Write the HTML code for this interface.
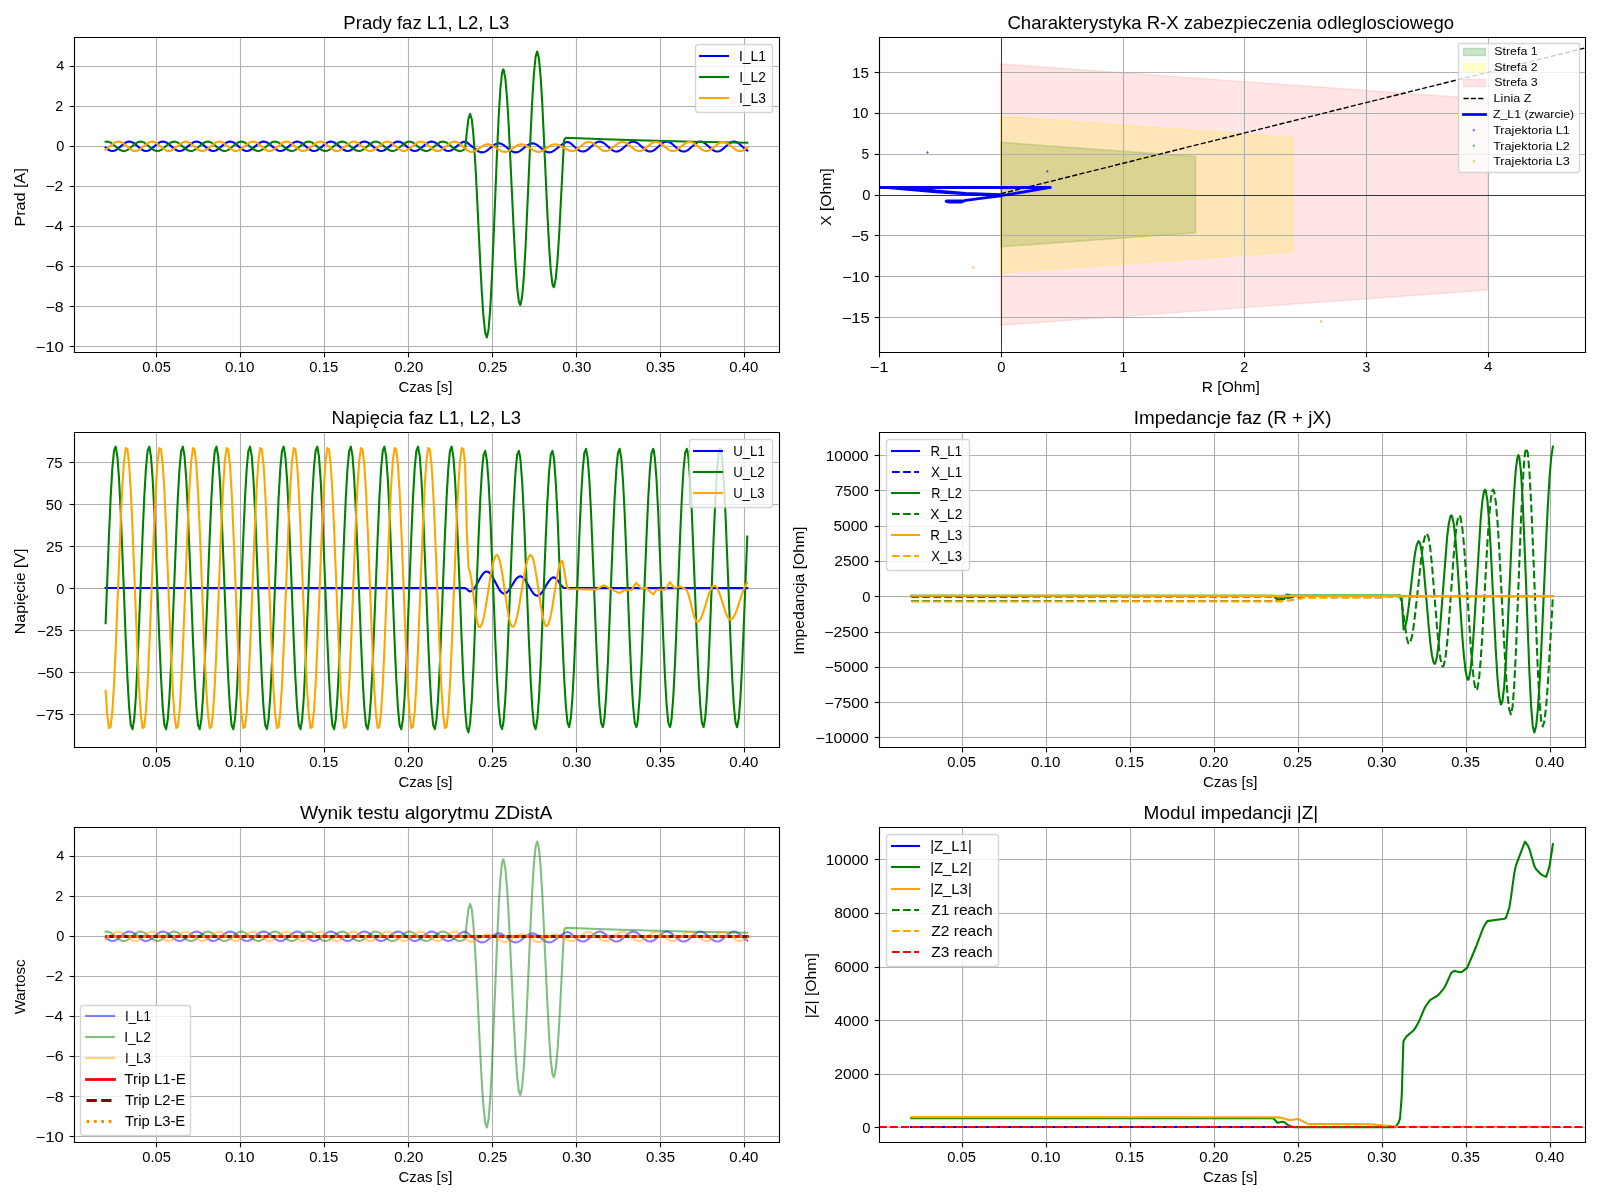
<!DOCTYPE html>
<html><head><meta charset="utf-8"><title>ZDistA</title>
<style>html,body{margin:0;padding:0;background:#fff;overflow:hidden}svg{display:block;will-change:transform}
text{font-family:"Liberation Sans",sans-serif}</style></head>
<body>
<svg width="1600" height="1200" viewBox="0 0 1152 864" version="1.1">
  <defs>
  <style type="text/css">*{stroke-linejoin: round; stroke-linecap: butt}</style>
 </defs>
 <g id="figure_1">
  <g id="patch_1">
   <path d="M 0 864 L 1152 864 L 1152 0 L 0 0 z
" style="fill: #ffffff"/>
  </g>
  <g id="axes_1">
   <g id="patch_2">
    <path d="M 52.94 253.24 L 561.15 253.24 L 561.15 26.88 L 52.94 26.88 z
" style="fill: #ffffff"/>
   </g>
   <g id="matplotlib.axis_1">
    <g id="xtick_1">
     <g id="line2d_1">
      <path d="M 112.68 253.80 L 112.68 27.00" clip-path="url(#pb59c1d358b)" style="fill: none; stroke: #b0b0b0; stroke-width: 0.8; stroke-linecap: square"/>
     </g>
     <g id="line2d_2">
      <defs>
       <path id="m1504cfccaf" d="M 0 0 L 0 3.5 " style="stroke: #000000; stroke-width: 0.8"/>
      </defs>
      <g>
       <use href="#m1504cfccaf" x="112.68" y="253.80" style="stroke: #000000; stroke-width: 0.8"/>
      </g>
     </g>
     <g id="text_1">
      <text style="font-size: 10.92px; font-family: 'Liberation Sans', sans-serif; text-anchor: middle" x="112.69" y="268.16" transform="rotate(-0 112.32 268.16)" textLength="20.58" lengthAdjust="spacingAndGlyphs">0.05</text>
     </g>
    </g>
    <g id="xtick_2">
     <g id="line2d_3">
      <path d="M 173.16 253.80 L 173.16 27.00" clip-path="url(#pb59c1d358b)" style="fill: none; stroke: #b0b0b0; stroke-width: 0.8; stroke-linecap: square"/>
     </g>
     <g id="line2d_4">
      <g>
       <use href="#m1504cfccaf" x="173.16" y="253.80" style="stroke: #000000; stroke-width: 0.8"/>
      </g>
     </g>
     <g id="text_2">
      <text style="font-size: 10.29px; font-family: 'Liberation Sans', sans-serif; text-anchor: middle" x="172.60" y="268.16" transform="rotate(-0 172.79 268.16)" textLength="21.35" lengthAdjust="spacingAndGlyphs">0.10</text>
     </g>
    </g>
    <g id="xtick_3">
     <g id="line2d_5">
      <path d="M 233.64 253.80 L 233.64 27.00" clip-path="url(#pb59c1d358b)" style="fill: none; stroke: #b0b0b0; stroke-width: 0.8; stroke-linecap: square"/>
     </g>
     <g id="line2d_6">
      <g>
       <use href="#m1504cfccaf" x="233.64" y="253.80" style="stroke: #000000; stroke-width: 0.8"/>
      </g>
     </g>
     <g id="text_3">
      <text style="font-size: 10.81px; font-family: 'Liberation Sans', sans-serif; text-anchor: middle" x="233.10" y="268.16" transform="rotate(-0 233.26 268.16)" textLength="20.79" lengthAdjust="spacingAndGlyphs">0.15</text>
     </g>
    </g>
    <g id="xtick_4">
     <g id="line2d_7">
      <path d="M 294.12 253.80 L 294.12 27.00" clip-path="url(#pb59c1d358b)" style="fill: none; stroke: #b0b0b0; stroke-width: 0.8; stroke-linecap: square"/>
     </g>
     <g id="line2d_8">
      <g>
       <use href="#m1504cfccaf" x="294.12" y="253.80" style="stroke: #000000; stroke-width: 0.8"/>
      </g>
     </g>
     <g id="text_4">
      <text style="font-size: 10.18px; font-family: 'Liberation Sans', sans-serif; text-anchor: middle" x="294.26" y="268.16" transform="rotate(-0 293.74 268.16)" textLength="20.93" lengthAdjust="spacingAndGlyphs">0.20</text>
     </g>
    </g>
    <g id="xtick_5">
     <g id="line2d_9">
      <path d="M 354.60 253.80 L 354.60 27.00" clip-path="url(#pb59c1d358b)" style="fill: none; stroke: #b0b0b0; stroke-width: 0.8; stroke-linecap: square"/>
     </g>
     <g id="line2d_10">
      <g>
       <use href="#m1504cfccaf" x="354.60" y="253.80" style="stroke: #000000; stroke-width: 0.8"/>
      </g>
     </g>
     <g id="text_5">
      <text style="font-size: 10.18px; font-family: 'Liberation Sans', sans-serif; text-anchor: middle" x="354.76" y="268.16" transform="rotate(-0 354.21 268.16)" textLength="20.79" lengthAdjust="spacingAndGlyphs">0.25</text>
     </g>
    </g>
    <g id="xtick_6">
     <g id="line2d_11">
      <path d="M 415.08 253.80 L 415.08 27.00" clip-path="url(#pb59c1d358b)" style="fill: none; stroke: #b0b0b0; stroke-width: 0.8; stroke-linecap: square"/>
     </g>
     <g id="line2d_12">
      <g>
       <use href="#m1504cfccaf" x="415.08" y="253.80" style="stroke: #000000; stroke-width: 0.8"/>
      </g>
     </g>
     <g id="text_6">
      <text style="font-size: 10.27px; font-family: 'Liberation Sans', sans-serif; text-anchor: middle" x="415.21" y="268.16" transform="rotate(-0 414.68 268.16)" textLength="20.93" lengthAdjust="spacingAndGlyphs">0.30</text>
     </g>
    </g>
    <g id="xtick_7">
     <g id="line2d_13">
      <path d="M 475.56 253.80 L 475.56 27.00" clip-path="url(#pb59c1d358b)" style="fill: none; stroke: #b0b0b0; stroke-width: 0.8; stroke-linecap: square"/>
     </g>
     <g id="line2d_14">
      <g>
       <use href="#m1504cfccaf" x="475.56" y="253.80" style="stroke: #000000; stroke-width: 0.8"/>
      </g>
     </g>
     <g id="text_7">
      <text style="font-size: 10.29px; font-family: 'Liberation Sans', sans-serif; text-anchor: middle" x="475.53" y="268.16" transform="rotate(-0 475.15 268.16)" textLength="21.00" lengthAdjust="spacingAndGlyphs">0.35</text>
     </g>
    </g>
    <g id="xtick_8">
     <g id="line2d_15">
      <path d="M 536.04 253.80 L 536.04 27.00" clip-path="url(#pb59c1d358b)" style="fill: none; stroke: #b0b0b0; stroke-width: 0.8; stroke-linecap: square"/>
     </g>
     <g id="line2d_16">
      <g>
       <use href="#m1504cfccaf" x="536.04" y="253.80" style="stroke: #000000; stroke-width: 0.8"/>
      </g>
     </g>
     <g id="text_8">
      <text style="font-size: 10.71px; font-family: 'Liberation Sans', sans-serif; text-anchor: middle" x="535.61" y="268.16" transform="rotate(-0 535.63 268.16)" textLength="20.93" lengthAdjust="spacingAndGlyphs">0.40</text>
     </g>
    </g>
    <g id="text_9">
     <text style="font-size: 9.97px; font-family: 'Liberation Sans', sans-serif; text-anchor: middle" x="306.26" y="282.24" transform="rotate(-0 307.04 282.24)" textLength="38.86" lengthAdjust="spacingAndGlyphs">Czas [s]</text>
    </g>
   </g>
   <g id="matplotlib.axis_2">
    <g id="ytick_1">
     <g id="line2d_17">
      <path d="M 53.64 249.48 L 561.24 249.48" clip-path="url(#pb59c1d358b)" style="fill: none; stroke: #b0b0b0; stroke-width: 0.8; stroke-linecap: square"/>
     </g>
     <g id="line2d_18">
      <defs>
       <path id="m5d545ce8f8" d="M 0 0 L -3.5 0 " style="stroke: #000000; stroke-width: 0.8"/>
      </defs>
      <g>
       <use href="#m5d545ce8f8" x="53.64" y="249.48" style="stroke: #000000; stroke-width: 0.8"/>
      </g>
     </g>
     <g id="text_10">
      <text style="font-size: 10.07px; font-family: 'Liberation Sans', sans-serif; text-anchor: end" x="46.02" y="253.11" transform="rotate(-0 45.94 253.10)" textLength="20.44" lengthAdjust="spacingAndGlyphs">−10</text>
     </g>
    </g>
    <g id="ytick_2">
     <g id="line2d_19">
      <path d="M 53.64 220.68 L 561.24 220.68" clip-path="url(#pb59c1d358b)" style="fill: none; stroke: #b0b0b0; stroke-width: 0.8; stroke-linecap: square"/>
     </g>
     <g id="line2d_20">
      <g>
       <use href="#m5d545ce8f8" x="53.64" y="220.68" style="stroke: #000000; stroke-width: 0.8"/>
      </g>
     </g>
     <g id="text_11">
      <text style="font-size: 10.08px; font-family: 'Liberation Sans', sans-serif; text-anchor: end" x="45.86" y="224.29" transform="rotate(-0 45.94 224.28)" textLength="13.06" lengthAdjust="spacingAndGlyphs">−8</text>
     </g>
    </g>
    <g id="ytick_3">
     <g id="line2d_21">
      <path d="M 53.64 191.88 L 561.24 191.88" clip-path="url(#pb59c1d358b)" style="fill: none; stroke: #b0b0b0; stroke-width: 0.8; stroke-linecap: square"/>
     </g>
     <g id="line2d_22">
      <g>
       <use href="#m5d545ce8f8" x="53.64" y="191.88" style="stroke: #000000; stroke-width: 0.8"/>
      </g>
     </g>
     <g id="text_12">
      <text style="font-size: 9.97px; font-family: 'Liberation Sans', sans-serif; text-anchor: end" x="45.86" y="195.47" transform="rotate(-0 45.94 195.46)" textLength="13.11" lengthAdjust="spacingAndGlyphs">−6</text>
     </g>
    </g>
    <g id="ytick_4">
     <g id="line2d_23">
      <path d="M 53.64 163.08 L 561.24 163.08" clip-path="url(#pb59c1d358b)" style="fill: none; stroke: #b0b0b0; stroke-width: 0.8; stroke-linecap: square"/>
     </g>
     <g id="line2d_24">
      <g>
       <use href="#m5d545ce8f8" x="53.64" y="163.08" style="stroke: #000000; stroke-width: 0.8"/>
      </g>
     </g>
     <g id="text_13">
      <text style="font-size: 10.08px; font-family: 'Liberation Sans', sans-serif; text-anchor: end" x="45.57" y="166.64" transform="rotate(-0 45.94 166.64)" textLength="13.31" lengthAdjust="spacingAndGlyphs">−4</text>
     </g>
    </g>
    <g id="ytick_5">
     <g id="line2d_25">
      <path d="M 53.64 134.28 L 561.24 134.28" clip-path="url(#pb59c1d358b)" style="fill: none; stroke: #b0b0b0; stroke-width: 0.8; stroke-linecap: square"/>
     </g>
     <g id="line2d_26">
      <g>
       <use href="#m5d545ce8f8" x="53.64" y="134.28" style="stroke: #000000; stroke-width: 0.8"/>
      </g>
     </g>
     <g id="text_14">
      <text style="font-size: 9.97px; font-family: 'Liberation Sans', sans-serif; text-anchor: end" x="45.60" y="137.82" transform="rotate(-0 45.94 137.82)" textLength="12.83" lengthAdjust="spacingAndGlyphs">−2</text>
     </g>
    </g>
    <g id="ytick_6">
     <g id="line2d_27">
      <path d="M 53.64 105.48 L 561.24 105.48" clip-path="url(#pb59c1d358b)" style="fill: none; stroke: #b0b0b0; stroke-width: 0.8; stroke-linecap: square"/>
     </g>
     <g id="line2d_28">
      <g>
       <use href="#m5d545ce8f8" x="53.64" y="105.48" style="stroke: #000000; stroke-width: 0.8"/>
      </g>
     </g>
     <g id="text_15">
      <text style="font-size: 10.92px; font-family: 'Liberation Sans', sans-serif; text-anchor: end" x="46.32" y="109.00" transform="rotate(-0 45.94 109.00)" textLength="5.85" lengthAdjust="spacingAndGlyphs">0</text>
     </g>
    </g>
    <g id="ytick_7">
     <g id="line2d_29">
      <path d="M 53.64 76.68 L 561.24 76.68" clip-path="url(#pb59c1d358b)" style="fill: none; stroke: #b0b0b0; stroke-width: 0.8; stroke-linecap: square"/>
     </g>
     <g id="line2d_30">
      <g>
       <use href="#m5d545ce8f8" x="53.64" y="76.68" style="stroke: #000000; stroke-width: 0.8"/>
      </g>
     </g>
     <g id="text_16">
      <text style="font-size: 9.98px; font-family: 'Liberation Sans', sans-serif; text-anchor: end" x="45.57" y="80.18" transform="rotate(-0 45.94 80.18)" textLength="5.74" lengthAdjust="spacingAndGlyphs">2</text>
     </g>
    </g>
    <g id="ytick_8">
     <g id="line2d_31">
      <path d="M 53.64 47.88 L 561.24 47.88" clip-path="url(#pb59c1d358b)" style="fill: none; stroke: #b0b0b0; stroke-width: 0.8; stroke-linecap: square"/>
     </g>
     <g id="line2d_32">
      <g>
       <use href="#m5d545ce8f8" x="53.64" y="47.88" style="stroke: #000000; stroke-width: 0.8"/>
      </g>
     </g>
     <g id="text_17">
      <text style="font-size: 9.87px; font-family: 'Liberation Sans', sans-serif; text-anchor: end" x="46.27" y="50.64" transform="rotate(-0 45.94 51.36)" textLength="5.84" lengthAdjust="spacingAndGlyphs">4</text>
     </g>
    </g>
    <g id="text_18">
     <text style="font-size: 10.49px; font-family: 'Liberation Sans', sans-serif; text-anchor: middle" x="16.70" y="139.34" transform="rotate(-90 18.72 140.06)" textLength="42.12" lengthAdjust="spacingAndGlyphs">Prad [A]</text>
    </g>
   </g>
   <g id="line2d_33">
    <path d="M 76.04 106.27 L 77.24 107.23 L 78.45 108.00 L 79.66 108.51 L 80.87 108.71 L 82.08 108.58 L 83.29 108.13 L 84.50 107.40 L 86.92 105.43 L 89.34 103.42 L 90.55 102.65 L 91.76 102.14 L 92.97 101.94 L 94.18 102.07 L 95.39 102.52 L 96.60 103.25 L 99.01 105.22 L 101.43 107.23 L 102.64 108.00 L 103.85 108.51 L 105.06 108.71 L 106.27 108.58 L 107.48 108.13 L 108.69 107.40 L 111.11 105.43 L 113.53 103.42 L 114.74 102.65 L 115.95 102.14 L 117.16 101.94 L 118.37 102.07 L 119.58 102.52 L 120.79 103.25 L 123.20 105.22 L 125.62 107.23 L 126.83 108.00 L 128.04 108.51 L 129.25 108.71 L 130.46 108.58 L 131.67 108.13 L 132.88 107.40 L 135.30 105.43 L 137.72 103.42 L 138.93 102.65 L 140.14 102.14 L 141.35 101.94 L 142.56 102.07 L 143.76 102.52 L 144.97 103.25 L 147.39 105.22 L 149.81 107.23 L 151.02 108.00 L 152.23 108.51 L 153.44 108.71 L 154.65 108.58 L 155.86 108.13 L 157.07 107.40 L 159.49 105.43 L 161.91 103.42 L 163.12 102.65 L 164.33 102.14 L 165.53 101.94 L 166.74 102.07 L 167.95 102.52 L 169.16 103.25 L 171.58 105.22 L 174.00 107.23 L 175.21 108.00 L 176.42 108.51 L 177.63 108.71 L 178.84 108.58 L 180.05 108.13 L 181.26 107.40 L 183.68 105.43 L 186.10 103.42 L 187.30 102.65 L 188.51 102.14 L 189.72 101.94 L 190.93 102.07 L 192.14 102.52 L 193.35 103.25 L 195.77 105.22 L 198.19 107.23 L 199.40 108.00 L 200.61 108.51 L 201.82 108.71 L 203.03 108.58 L 204.24 108.13 L 205.45 107.40 L 207.87 105.43 L 210.28 103.42 L 211.49 102.65 L 212.70 102.14 L 213.91 101.94 L 215.12 102.07 L 216.33 102.52 L 217.54 103.25 L 219.96 105.22 L 222.38 107.23 L 223.59 108.00 L 224.80 108.51 L 226.01 108.71 L 227.22 108.58 L 228.43 108.13 L 229.64 107.40 L 232.05 105.43 L 234.47 103.42 L 235.68 102.65 L 236.89 102.14 L 238.10 101.94 L 239.31 102.07 L 240.52 102.52 L 241.73 103.25 L 244.15 105.22 L 246.57 107.23 L 247.78 108.00 L 248.99 108.51 L 250.20 108.71 L 251.41 108.58 L 252.61 108.13 L 253.82 107.40 L 256.24 105.43 L 258.66 103.42 L 259.87 102.65 L 261.08 102.14 L 262.29 101.94 L 263.50 102.07 L 264.71 102.52 L 265.92 103.25 L 268.34 105.22 L 270.76 107.23 L 271.97 108.00 L 273.18 108.51 L 274.38 108.71 L 275.59 108.58 L 276.80 108.13 L 278.01 107.40 L 280.43 105.43 L 282.85 103.42 L 284.06 102.65 L 285.27 102.14 L 286.48 101.94 L 287.69 102.07 L 288.90 102.52 L 290.11 103.25 L 292.53 105.22 L 294.95 107.23 L 296.15 108.00 L 297.36 108.51 L 298.57 108.71 L 299.78 108.58 L 300.99 108.13 L 302.20 107.40 L 304.62 105.43 L 307.04 103.42 L 308.25 102.65 L 309.46 102.14 L 310.67 101.94 L 311.88 102.07 L 313.09 102.52 L 314.30 103.25 L 316.72 105.22 L 319.13 107.23 L 320.34 108.00 L 321.55 108.51 L 322.76 108.71 L 323.97 108.58 L 325.18 108.13 L 326.39 107.40 L 328.81 105.43 L 331.23 103.42 L 332.44 102.65 L 333.65 102.14 L 334.86 102.00 L 336.07 102.48 L 338.49 104.44 L 344.53 109.04 L 345.74 109.53 L 346.95 109.72 L 348.16 109.59 L 349.37 109.16 L 350.58 108.47 L 353.00 106.58 L 355.42 104.66 L 356.63 103.92 L 357.84 103.43 L 359.05 103.24 L 360.26 103.36 L 361.47 103.80 L 362.67 104.49 L 365.09 106.38 L 367.51 108.30 L 368.72 109.04 L 369.93 109.53 L 371.14 109.72 L 372.35 109.59 L 373.56 109.16 L 374.77 108.47 L 377.19 106.58 L 379.61 104.66 L 380.82 103.92 L 382.03 103.43 L 383.24 103.24 L 384.44 103.36 L 385.65 103.80 L 386.86 104.49 L 389.28 106.38 L 391.70 108.30 L 392.91 109.04 L 394.12 109.53 L 395.33 109.72 L 396.54 109.59 L 397.75 109.16 L 398.96 108.47 L 401.38 106.58 L 403.80 104.66 L 406.21 103.10 L 407.42 102.48 L 408.63 102.24 L 409.84 102.56 L 411.05 103.33 L 413.47 105.43 L 415.89 107.57 L 417.10 108.39 L 418.31 108.93 L 419.52 109.14 L 420.73 109.00 L 421.94 108.52 L 423.15 107.75 L 425.57 105.66 L 427.98 103.52 L 429.19 102.70 L 430.52 102.12 L 431.61 101.94 L 432.82 102.08 L 434.39 102.77 L 435.24 103.33 L 437.66 105.43 L 440.08 107.57 L 441.41 108.46 L 442.50 108.93 L 443.71 109.14 L 444.92 109.00 L 446.13 108.52 L 447.34 107.75 L 449.75 105.66 L 452.17 103.52 L 453.38 102.70 L 454.59 102.15 L 455.80 101.94 L 457.01 102.08 L 458.83 102.92 L 459.43 103.33 L 461.85 105.43 L 464.27 107.57 L 465.48 108.39 L 466.69 108.93 L 467.90 109.14 L 469.11 109.00 L 470.68 108.32 L 471.52 107.75 L 473.94 105.66 L 476.36 103.52 L 477.57 102.70 L 478.78 102.15 L 479.99 101.94 L 481.20 102.08 L 483.01 102.92 L 483.62 103.33 L 486.04 105.43 L 488.46 107.57 L 489.67 108.39 L 490.88 108.93 L 492.09 109.14 L 493.29 109.00 L 494.99 108.24 L 495.71 107.75 L 498.13 105.66 L 500.79 103.33 L 501.76 102.70 L 502.97 102.15 L 504.18 101.94 L 505.39 102.08 L 506.60 102.56 L 507.81 103.33 L 510.23 105.43 L 512.65 107.57 L 513.86 108.39 L 515.07 108.93 L 516.27 109.14 L 517.97 108.85 L 518.94 108.39 L 519.90 107.75 L 522.32 105.66 L 524.74 103.52 L 525.95 102.70 L 527.16 102.15 L 528.37 101.94 L 529.58 102.08 L 530.79 102.56 L 532.00 103.33 L 534.42 105.43 L 536.84 107.57 L 538.04 108.39 L 538.04 108.39 " clip-path="url(#pb59c1d358b)" style="fill: none; stroke: #0000ff; stroke-width: 1.5; stroke-linecap: square"/>
   </g>
   <g id="line2d_34">
    <path d="M 76.04 102.05 L 77.24 101.95 L 78.45 102.18 L 79.66 102.72 L 80.87 103.51 L 83.29 105.54 L 85.71 107.48 L 86.92 108.19 L 88.13 108.61 L 89.34 108.71 L 90.55 108.47 L 91.76 107.94 L 92.97 107.14 L 95.39 105.11 L 97.81 103.17 L 99.01 102.47 L 100.22 102.05 L 101.43 101.95 L 102.64 102.18 L 103.85 102.72 L 105.06 103.51 L 107.48 105.54 L 109.90 107.48 L 111.11 108.19 L 112.32 108.61 L 113.53 108.71 L 114.74 108.47 L 115.95 107.94 L 117.16 107.14 L 119.58 105.11 L 121.99 103.17 L 123.20 102.47 L 124.41 102.05 L 125.62 101.95 L 126.83 102.18 L 128.04 102.72 L 129.25 103.51 L 131.67 105.54 L 134.09 107.48 L 135.30 108.19 L 136.51 108.61 L 137.72 108.71 L 138.93 108.47 L 140.14 107.94 L 141.35 107.14 L 143.76 105.11 L 146.18 103.17 L 147.39 102.47 L 148.60 102.05 L 149.81 101.95 L 151.02 102.18 L 152.23 102.72 L 153.44 103.51 L 155.86 105.54 L 158.28 107.48 L 159.49 108.19 L 160.70 108.61 L 161.91 108.71 L 163.12 108.47 L 164.33 107.94 L 165.53 107.14 L 167.95 105.11 L 170.37 103.17 L 171.58 102.47 L 172.79 102.05 L 174.00 101.95 L 175.21 102.18 L 176.42 102.72 L 177.63 103.51 L 180.05 105.54 L 182.47 107.48 L 183.68 108.19 L 184.89 108.61 L 186.10 108.71 L 187.30 108.47 L 188.51 107.94 L 189.72 107.14 L 192.14 105.11 L 194.56 103.17 L 195.77 102.47 L 196.98 102.05 L 198.19 101.95 L 199.40 102.18 L 200.61 102.72 L 201.82 103.51 L 204.24 105.54 L 206.66 107.48 L 207.87 108.19 L 209.07 108.61 L 210.28 108.71 L 211.49 108.47 L 212.70 107.94 L 213.91 107.14 L 216.33 105.11 L 218.75 103.17 L 219.96 102.47 L 221.17 102.05 L 222.38 101.95 L 223.59 102.18 L 224.80 102.72 L 226.01 103.51 L 228.43 105.54 L 230.84 107.48 L 232.05 108.19 L 233.26 108.61 L 234.47 108.71 L 235.68 108.47 L 236.89 107.94 L 238.10 107.14 L 240.52 105.11 L 242.94 103.17 L 244.15 102.47 L 245.36 102.05 L 246.57 101.95 L 247.78 102.18 L 248.99 102.72 L 250.20 103.51 L 252.61 105.54 L 255.03 107.48 L 256.24 108.19 L 257.45 108.61 L 258.66 108.71 L 259.87 108.47 L 261.08 107.94 L 262.29 107.14 L 264.71 105.11 L 267.13 103.17 L 268.34 102.47 L 269.55 102.05 L 270.76 101.95 L 271.97 102.18 L 273.18 102.72 L 274.38 103.51 L 276.80 105.54 L 279.22 107.48 L 280.43 108.19 L 281.64 108.61 L 282.85 108.71 L 284.06 108.47 L 285.27 107.94 L 286.48 107.14 L 288.90 105.11 L 291.32 103.17 L 292.53 102.47 L 293.74 102.05 L 294.95 101.95 L 296.15 102.18 L 297.36 102.72 L 298.57 103.51 L 300.99 105.54 L 303.41 107.48 L 304.62 108.19 L 305.83 108.61 L 307.04 108.71 L 308.25 108.47 L 309.46 107.94 L 310.67 107.14 L 313.09 105.11 L 315.51 103.17 L 316.72 102.47 L 317.93 102.05 L 319.13 101.95 L 320.34 102.18 L 321.55 102.72 L 322.76 103.51 L 325.18 105.54 L 327.60 107.48 L 328.81 108.19 L 330.02 108.61 L 331.23 108.71 L 332.44 108.47 L 333.65 107.94 L 334.86 107.14 L 336.07 95.52 L 337.28 85.45 L 338.49 81.98 L 339.70 86.00 L 340.90 97.65 L 342.11 115.78 L 343.32 138.57 L 345.74 188.79 L 346.95 211.20 L 348.16 228.75 L 349.37 239.69 L 350.46 242.95 L 350.58 242.90 L 351.79 237.01 L 353.00 221.90 L 354.21 199.10 L 356.63 140.29 L 357.84 110.26 L 359.05 83.93 L 360.26 63.97 L 361.47 52.41 L 362.31 49.99 L 362.67 50.36 L 363.88 56.83 L 365.09 70.78 L 366.30 90.88 L 368.72 141.38 L 369.93 166.94 L 371.14 189.42 L 372.35 206.65 L 373.56 216.99 L 374.53 219.60 L 374.77 219.42 L 375.98 213.32 L 377.19 199.06 L 378.40 178.02 L 380.82 124.13 L 382.03 96.44 L 383.24 71.83 L 384.44 52.64 L 385.65 40.72 L 386.74 37.16 L 386.86 37.21 L 388.07 42.38 L 389.28 55.67 L 390.49 75.71 L 392.91 127.40 L 394.12 153.79 L 395.33 176.94 L 396.54 194.49 L 397.75 204.65 L 398.60 206.78 L 398.96 206.43 L 400.17 200.42 L 401.38 187.46 L 402.59 168.82 L 405.01 122.19 L 406.09 101.00 L 407.42 99.13 L 435.24 100.21 L 465.48 101.16 L 499.34 102.00 L 538.04 102.75 L 538.04 102.75 " clip-path="url(#pb59c1d358b)" style="fill: none; stroke: #008000; stroke-width: 1.5; stroke-linecap: square"/>
   </g>
   <g id="line2d_35">
    <path d="M 76.04 107.79 L 77.24 106.96 L 82.08 103.01 L 83.29 102.36 L 84.50 102.00 L 85.71 101.97 L 86.92 102.26 L 88.13 102.86 L 89.34 103.69 L 94.18 107.64 L 95.39 108.29 L 96.60 108.65 L 97.81 108.69 L 99.01 108.39 L 100.22 107.79 L 101.43 106.96 L 106.27 103.01 L 107.48 102.36 L 108.69 102.00 L 109.90 101.97 L 111.11 102.26 L 112.32 102.86 L 113.53 103.69 L 118.37 107.64 L 119.58 108.29 L 120.79 108.65 L 121.99 108.69 L 123.20 108.39 L 124.41 107.79 L 125.62 106.96 L 130.46 103.01 L 131.67 102.36 L 132.88 102.00 L 134.09 101.97 L 135.30 102.26 L 136.51 102.86 L 137.72 103.69 L 142.56 107.64 L 143.76 108.29 L 144.97 108.65 L 146.18 108.69 L 147.39 108.39 L 148.60 107.79 L 149.81 106.96 L 154.65 103.01 L 155.86 102.36 L 157.07 102.00 L 158.28 101.97 L 159.49 102.26 L 160.70 102.86 L 161.91 103.69 L 166.74 107.64 L 167.95 108.29 L 169.16 108.65 L 170.37 108.69 L 171.58 108.39 L 172.79 107.79 L 174.00 106.96 L 178.84 103.01 L 180.05 102.36 L 181.26 102.00 L 182.47 101.97 L 183.68 102.26 L 184.89 102.86 L 186.10 103.69 L 190.93 107.64 L 192.14 108.29 L 193.35 108.65 L 194.56 108.69 L 195.77 108.39 L 196.98 107.79 L 198.19 106.96 L 203.03 103.01 L 204.24 102.36 L 205.45 102.00 L 206.66 101.97 L 207.87 102.26 L 209.07 102.86 L 210.28 103.69 L 215.12 107.64 L 216.33 108.29 L 217.54 108.65 L 218.75 108.69 L 219.96 108.39 L 221.17 107.79 L 222.38 106.96 L 227.22 103.01 L 228.43 102.36 L 229.64 102.00 L 230.84 101.97 L 232.05 102.26 L 233.26 102.86 L 234.47 103.69 L 239.31 107.64 L 240.52 108.29 L 241.73 108.65 L 242.94 108.69 L 244.15 108.39 L 245.36 107.79 L 246.57 106.96 L 251.41 103.01 L 252.61 102.36 L 253.82 102.00 L 255.03 101.97 L 256.24 102.26 L 257.45 102.86 L 258.66 103.69 L 263.50 107.64 L 264.71 108.29 L 265.92 108.65 L 267.13 108.69 L 268.34 108.39 L 269.55 107.79 L 270.76 106.96 L 275.59 103.01 L 276.80 102.36 L 278.01 102.00 L 279.22 101.97 L 280.43 102.26 L 281.64 102.86 L 282.85 103.69 L 287.69 107.64 L 288.90 108.29 L 290.11 108.65 L 291.32 108.69 L 292.53 108.39 L 293.74 107.79 L 294.95 106.96 L 299.78 103.01 L 300.99 102.36 L 302.20 102.00 L 303.41 101.97 L 304.62 102.26 L 305.83 102.86 L 307.04 103.69 L 311.88 107.64 L 313.09 108.29 L 314.30 108.65 L 315.51 108.69 L 316.72 108.39 L 317.93 107.79 L 319.13 106.96 L 323.97 103.01 L 325.18 102.36 L 326.39 102.00 L 327.60 101.97 L 328.81 102.26 L 330.02 102.86 L 331.23 103.69 L 334.86 106.81 L 336.07 107.91 L 337.28 108.79 L 338.49 109.28 L 339.70 109.34 L 340.90 109.10 L 342.11 108.62 L 343.32 107.94 L 348.16 104.75 L 349.37 104.22 L 350.58 103.93 L 351.79 103.91 L 353.00 104.15 L 354.21 104.63 L 355.42 105.30 L 360.26 108.50 L 361.47 109.02 L 362.67 109.31 L 363.88 109.34 L 365.09 109.10 L 366.30 108.62 L 367.51 107.94 L 372.35 104.75 L 373.56 104.22 L 374.77 103.93 L 375.98 103.91 L 377.19 104.15 L 378.40 104.63 L 379.61 105.30 L 384.44 108.50 L 385.65 109.02 L 386.86 109.31 L 388.07 109.34 L 389.28 109.10 L 390.49 108.62 L 391.70 107.94 L 396.54 104.75 L 397.75 104.22 L 398.96 103.93 L 400.17 103.91 L 401.38 104.15 L 402.59 104.63 L 407.42 107.26 L 409.84 108.37 L 411.05 108.73 L 412.26 108.76 L 413.47 108.47 L 414.68 107.89 L 415.89 107.07 L 420.73 103.20 L 421.94 102.57 L 423.15 102.21 L 424.36 102.18 L 425.57 102.47 L 426.78 103.05 L 427.98 103.87 L 432.82 107.74 L 434.39 108.51 L 435.24 108.73 L 436.45 108.76 L 437.66 108.47 L 438.87 107.89 L 440.08 107.07 L 444.92 103.20 L 446.13 102.57 L 447.34 102.21 L 448.55 102.18 L 449.75 102.47 L 450.96 103.05 L 452.90 104.45 L 457.01 107.74 L 458.83 108.59 L 459.43 108.73 L 460.64 108.76 L 461.85 108.47 L 463.06 107.89 L 464.87 106.59 L 469.11 103.20 L 470.68 102.43 L 471.52 102.21 L 472.73 102.18 L 473.94 102.47 L 475.15 103.05 L 476.97 104.35 L 481.20 107.74 L 483.01 108.59 L 483.62 108.73 L 484.83 108.76 L 486.04 108.47 L 487.25 107.89 L 489.18 106.49 L 493.29 103.20 L 494.99 102.39 L 495.71 102.21 L 496.92 102.18 L 498.13 102.47 L 499.34 103.05 L 500.79 104.06 L 505.39 107.74 L 506.60 108.37 L 507.81 108.73 L 509.02 108.76 L 510.23 108.47 L 511.44 107.89 L 513.25 106.59 L 517.48 103.20 L 518.94 102.47 L 519.90 102.21 L 521.11 102.18 L 522.32 102.47 L 523.53 103.05 L 524.74 103.87 L 529.58 107.74 L 530.79 108.37 L 532.00 108.73 L 533.21 108.76 L 534.42 108.47 L 535.63 107.89 L 536.84 107.07 L 538.04 106.09 L 538.04 106.09 " clip-path="url(#pb59c1d358b)" style="fill: none; stroke: #ffa500; stroke-width: 1.5; stroke-linecap: square"/>
   </g>
   <g id="patch_3">
    <path d="M 53.64 253.80 L 53.64 27.00" style="fill: none; stroke: #000000; stroke-width: 0.8; stroke-linejoin: miter; stroke-linecap: square"/>
   </g>
   <g id="patch_4">
    <path d="M 561.24 253.80 L 561.24 27.00" style="fill: none; stroke: #000000; stroke-width: 0.8; stroke-linejoin: miter; stroke-linecap: square"/>
   </g>
   <g id="patch_5">
    <path d="M 53.64 253.80 L 561.24 253.80" style="fill: none; stroke: #000000; stroke-width: 0.8; stroke-linejoin: miter; stroke-linecap: square"/>
   </g>
   <g id="patch_6">
    <path d="M 53.64 27.00 L 561.24 27.00" style="fill: none; stroke: #000000; stroke-width: 0.8; stroke-linejoin: miter; stroke-linecap: square"/>
   </g>
   <g id="text_19">
    <text style="font-size: 13.23px; font-family: 'Liberation Sans', sans-serif; text-anchor: middle" x="306.96" y="20.88" transform="rotate(-0 307.04 20.88)" textLength="119.48" lengthAdjust="spacingAndGlyphs">Prady faz L1, L2, L3</text>
   </g>
   <g id="legend_1">
    <g id="patch_7">
     <path d="M 502.92 81.00 L 554.76 81.00 Q 556.20 81.00 556.20 78.84 L 556.20 34.20 Q 556.20 32.04 554.76 32.04 L 502.92 32.04 Q 500.76 32.04 500.76 34.20 L 500.76 78.84 Q 500.76 81.00 502.92 81.00 z" style="fill: #ffffff; fill-opacity: 0.8; stroke-opacity: 0.8; stroke: #cccccc; stroke-linejoin: miter"/>
    </g>
    <g id="line2d_36">
     <path d="M 504.00 40.32 L 514.08 40.32 L 524.16 40.32" style="fill: none; stroke: #0000ff; stroke-width: 1.5; stroke-linecap: square"/>
    </g>
    <g id="text_20">
     <text style="font-size: 10.18px; font-family: 'Liberation Sans', sans-serif; text-anchor: start" x="532.08" y="43.80" transform="rotate(-0 532.26 43.8)" textLength="19.49" lengthAdjust="spacingAndGlyphs">I_L1</text>
    </g>
    <g id="line2d_37">
     <path d="M 504.00 55.44 L 514.08 55.44 L 524.16 55.44" style="fill: none; stroke: #008000; stroke-width: 1.5; stroke-linecap: square"/>
    </g>
    <g id="text_21">
     <text style="font-size: 9.98px; font-family: 'Liberation Sans', sans-serif; text-anchor: start" x="532.28" y="58.98" transform="rotate(-0 532.26 58.98)" textLength="19.05" lengthAdjust="spacingAndGlyphs">I_L2</text>
    </g>
    <g id="line2d_38">
     <path d="M 504.00 70.56 L 514.08 70.56 L 524.16 70.56" style="fill: none; stroke: #ffa500; stroke-width: 1.5; stroke-linecap: square"/>
    </g>
    <g id="text_22">
     <text style="font-size: 9.98px; font-family: 'Liberation Sans', sans-serif; text-anchor: start" x="532.08" y="74.16" transform="rotate(-0 532.26 74.16)" textLength="19.36" lengthAdjust="spacingAndGlyphs">I_L3</text>
    </g>
   </g>
  </g>
  <g id="axes_2">
   <g id="patch_8">
    <path d="M 632.99 253.24 L 1141.2 253.24 L 1141.2 26.88 L 632.99 26.88 z
" style="fill: #ffffff"/>
   </g>
   <g id="patch_9">
    <path d="M 720.61 177.74 L 860.80 167.58 L 860.80 112.64 L 720.61 102.49 z
" clip-path="url(#pef2bdce41a)" style="fill: #008000; fill-opacity: 0.2; stroke-opacity: 0.2; stroke: #008000; stroke-linejoin: miter"/>
   </g>
   <g id="patch_10">
    <path d="M 720.61 196.56 L 930.90 181.32 L 930.90 98.91 L 720.61 83.67 z
" clip-path="url(#pef2bdce41a)" style="fill: #ffff00; fill-opacity: 0.2; stroke-opacity: 0.2; stroke: #ffff00; stroke-linejoin: miter"/>
   </g>
   <g id="patch_11">
    <path d="M 720.61 234.19 L 1071.10 208.79 L 1071.10 71.44 L 720.61 46.04 z
" clip-path="url(#pef2bdce41a)" style="fill: #ff0000; fill-opacity: 0.1; stroke-opacity: 0.1; stroke: #ff0000; stroke-linejoin: miter"/>
   </g>
   <g id="matplotlib.axis_3">
    <g id="xtick_9">
     <g id="line2d_39">
      <path d="M 633.24 253.80 L 633.24 27.00" clip-path="url(#pef2bdce41a)" style="fill: none; stroke: #b0b0b0; stroke-width: 0.8; stroke-linecap: square"/>
     </g>
     <g id="line2d_40">
      <g>
       <use href="#m1504cfccaf" x="633.24" y="253.80" style="stroke: #000000; stroke-width: 0.8"/>
      </g>
     </g>
     <g id="text_23">
      <text style="font-size: 10.28px; font-family: 'Liberation Sans', sans-serif; text-anchor: middle" x="632.96" y="268.16" transform="rotate(-0 632.99 268.16)" textLength="13.82" lengthAdjust="spacingAndGlyphs">−1</text>
     </g>
    </g>
    <g id="xtick_10">
     <g id="line2d_41">
      <path d="M 721.08 253.80 L 721.08 27.00" clip-path="url(#pef2bdce41a)" style="fill: none; stroke: #b0b0b0; stroke-width: 0.8; stroke-linecap: square"/>
     </g>
     <g id="line2d_42">
      <g>
       <use href="#m1504cfccaf" x="721.08" y="253.80" style="stroke: #000000; stroke-width: 0.8"/>
      </g>
     </g>
     <g id="text_24">
      <text style="font-size: 10.92px; font-family: 'Liberation Sans', sans-serif; text-anchor: middle" x="720.95" y="268.16" transform="rotate(-0 720.61 268.16)" textLength="5.91" lengthAdjust="spacingAndGlyphs">0</text>
     </g>
    </g>
    <g id="xtick_11">
     <g id="line2d_43">
      <path d="M 808.92 253.80 L 808.92 27.00" clip-path="url(#pef2bdce41a)" style="fill: none; stroke: #b0b0b0; stroke-width: 0.8; stroke-linecap: square"/>
     </g>
     <g id="line2d_44">
      <g>
       <use href="#m1504cfccaf" x="808.92" y="253.80" style="stroke: #000000; stroke-width: 0.8"/>
      </g>
     </g>
     <g id="text_25">
      <text style="font-size: 11.13px; font-family: 'Liberation Sans', sans-serif; text-anchor: middle" x="808.81" y="268.16" transform="rotate(-0 808.23 268.16)" textLength="5.67" lengthAdjust="spacingAndGlyphs">1</text>
     </g>
    </g>
    <g id="xtick_12">
     <g id="line2d_45">
      <path d="M 896.04 253.80 L 896.04 27.00" clip-path="url(#pef2bdce41a)" style="fill: none; stroke: #b0b0b0; stroke-width: 0.8; stroke-linecap: square"/>
     </g>
     <g id="line2d_46">
      <g>
       <use href="#m1504cfccaf" x="896.04" y="253.80" style="stroke: #000000; stroke-width: 0.8"/>
      </g>
     </g>
     <g id="text_26">
      <text style="font-size: 9.97px; font-family: 'Liberation Sans', sans-serif; text-anchor: middle" x="895.86" y="268.16" transform="rotate(-0 895.85 268.16)" textLength="5.74" lengthAdjust="spacingAndGlyphs">2</text>
     </g>
    </g>
    <g id="xtick_13">
     <g id="line2d_47">
      <path d="M 983.88 253.80 L 983.88 27.00" clip-path="url(#pef2bdce41a)" style="fill: none; stroke: #b0b0b0; stroke-width: 0.8; stroke-linecap: square"/>
     </g>
     <g id="line2d_48">
      <g>
       <use href="#m1504cfccaf" x="983.88" y="253.80" style="stroke: #000000; stroke-width: 0.8"/>
      </g>
     </g>
     <g id="text_27">
      <text style="font-size: 10.60px; font-family: 'Liberation Sans', sans-serif; text-anchor: middle" x="983.85" y="268.16" transform="rotate(-0 983.47 268.16)" textLength="5.62" lengthAdjust="spacingAndGlyphs">3</text>
     </g>
    </g>
    <g id="xtick_14">
     <g id="line2d_49">
      <path d="M 1071.72 253.80 L 1071.72 27.00" clip-path="url(#pef2bdce41a)" style="fill: none; stroke: #b0b0b0; stroke-width: 0.8; stroke-linecap: square"/>
     </g>
     <g id="line2d_50">
      <g>
       <use href="#m1504cfccaf" x="1071.72" y="253.80" style="stroke: #000000; stroke-width: 0.8"/>
      </g>
     </g>
     <g id="text_28">
      <text style="font-size: 9.87px; font-family: 'Liberation Sans', sans-serif; text-anchor: middle" x="1071.52" y="267.44" transform="rotate(-0 1071.10 268.16)" textLength="6.13" lengthAdjust="spacingAndGlyphs">4</text>
     </g>
    </g>
    <g id="text_29">
     <text style="font-size: 10.92px; font-family: 'Liberation Sans', sans-serif; text-anchor: middle" x="886.15" y="282.24" transform="rotate(-0 887.09 282.24)" textLength="41.75" lengthAdjust="spacingAndGlyphs">R [Ohm]</text>
    </g>
   </g>
   <g id="matplotlib.axis_4">
    <g id="ytick_9">
     <g id="line2d_51">
      <path d="M 633.24 228.60 L 1141.56 228.60" clip-path="url(#pef2bdce41a)" style="fill: none; stroke: #b0b0b0; stroke-width: 0.8; stroke-linecap: square"/>
     </g>
     <g id="line2d_52">
      <g>
       <use href="#m5d545ce8f8" x="633.24" y="228.60" style="stroke: #000000; stroke-width: 0.8"/>
      </g>
     </g>
     <g id="text_30">
      <text style="font-size: 10.08px; font-family: 'Liberation Sans', sans-serif; text-anchor: end" x="626.30" y="232.27" transform="rotate(-0 625.99 232.27)" textLength="20.29" lengthAdjust="spacingAndGlyphs">−15</text>
     </g>
    </g>
    <g id="ytick_10">
     <g id="line2d_53">
      <path d="M 633.24 199.08 L 1141.56 199.08" clip-path="url(#pef2bdce41a)" style="fill: none; stroke: #b0b0b0; stroke-width: 0.8; stroke-linecap: square"/>
     </g>
     <g id="line2d_54">
      <g>
       <use href="#m5d545ce8f8" x="633.24" y="199.08" style="stroke: #000000; stroke-width: 0.8"/>
      </g>
     </g>
     <g id="text_31">
      <text style="font-size: 10.08px; font-family: 'Liberation Sans', sans-serif; text-anchor: end" x="626.05" y="202.87" transform="rotate(-0 625.99 202.87)" textLength="19.62" lengthAdjust="spacingAndGlyphs">−10</text>
     </g>
    </g>
    <g id="ytick_11">
     <g id="line2d_55">
      <path d="M 633.24 169.56 L 1141.56 169.56" clip-path="url(#pef2bdce41a)" style="fill: none; stroke: #b0b0b0; stroke-width: 0.8; stroke-linecap: square"/>
     </g>
     <g id="line2d_56">
      <g>
       <use href="#m5d545ce8f8" x="633.24" y="169.56" style="stroke: #000000; stroke-width: 0.8"/>
      </g>
     </g>
     <g id="text_32">
      <text style="font-size: 10.28px; font-family: 'Liberation Sans', sans-serif; text-anchor: end" x="625.72" y="173.48" transform="rotate(-0 625.99 173.47)" textLength="12.87" lengthAdjust="spacingAndGlyphs">−5</text>
     </g>
    </g>
    <g id="ytick_12">
     <g id="line2d_57">
      <path d="M 633.24 140.76 L 1141.56 140.76" clip-path="url(#pef2bdce41a)" style="fill: none; stroke: #b0b0b0; stroke-width: 0.8; stroke-linecap: square"/>
     </g>
     <g id="line2d_58">
      <g>
       <use href="#m5d545ce8f8" x="633.24" y="140.76" style="stroke: #000000; stroke-width: 0.8"/>
      </g>
     </g>
     <g id="text_33">
      <text style="font-size: 10.92px; font-family: 'Liberation Sans', sans-serif; text-anchor: end" x="626.73" y="144.08" transform="rotate(-0 625.99 144.07)" textLength="5.91" lengthAdjust="spacingAndGlyphs">0</text>
     </g>
    </g>
    <g id="ytick_13">
     <g id="line2d_59">
      <path d="M 633.24 111.24 L 1141.56 111.24" clip-path="url(#pef2bdce41a)" style="fill: none; stroke: #b0b0b0; stroke-width: 0.8; stroke-linecap: square"/>
     </g>
     <g id="line2d_60">
      <g>
       <use href="#m5d545ce8f8" x="633.24" y="111.24" style="stroke: #000000; stroke-width: 0.8"/>
      </g>
     </g>
     <g id="text_34">
      <text style="font-size: 10.08px; font-family: 'Liberation Sans', sans-serif; text-anchor: end" x="625.67" y="114.68" transform="rotate(-0 625.99 114.68)" textLength="5.45" lengthAdjust="spacingAndGlyphs">5</text>
     </g>
    </g>
    <g id="ytick_14">
     <g id="line2d_61">
      <path d="M 633.24 81.72 L 1141.56 81.72" clip-path="url(#pef2bdce41a)" style="fill: none; stroke: #b0b0b0; stroke-width: 0.8; stroke-linecap: square"/>
     </g>
     <g id="line2d_62">
      <g>
       <use href="#m5d545ce8f8" x="633.24" y="81.72" style="stroke: #000000; stroke-width: 0.8"/>
      </g>
     </g>
     <g id="text_35">
      <text style="font-size: 10.18px; font-family: 'Liberation Sans', sans-serif; text-anchor: end" x="625.30" y="85.28" transform="rotate(-0 625.99 85.28)" textLength="11.69" lengthAdjust="spacingAndGlyphs">10</text>
     </g>
    </g>
    <g id="ytick_15">
     <g id="line2d_63">
      <path d="M 633.24 52.20 L 1141.56 52.20" clip-path="url(#pef2bdce41a)" style="fill: none; stroke: #b0b0b0; stroke-width: 0.8; stroke-linecap: square"/>
     </g>
     <g id="line2d_64">
      <g>
       <use href="#m5d545ce8f8" x="633.24" y="52.20" style="stroke: #000000; stroke-width: 0.8"/>
      </g>
     </g>
     <g id="text_36">
      <text style="font-size: 10.29px; font-family: 'Liberation Sans', sans-serif; text-anchor: end" x="625.74" y="55.89" transform="rotate(-0 625.99 55.88)" textLength="12.26" lengthAdjust="spacingAndGlyphs">15</text>
     </g>
    </g>
    <g id="text_37">
     <text style="font-size: 10.48px; font-family: 'Liberation Sans', sans-serif; text-anchor: middle" x="596.88" y="139.34" transform="rotate(-90 598.77 140.06)" textLength="41.29" lengthAdjust="spacingAndGlyphs">X [Ohm]</text>
    </g>
   </g>
   <g id="line2d_65">
    <path d="M 720.61 139.53 L 1153 31.60 " clip-path="url(#pef2bdce41a)" style="fill: none; stroke-dasharray: 3.7,1.6; stroke-dashoffset: 0; stroke: #000000"/>
   </g>
   <g id="line2d_66">
    <path d="M 694.32 144.46 L 682.05 144.58 L 681.18 144.93 L 693.44 144.82 L 682.93 145.17 L 683.81 145.58 L 691.69 145.52 L 693.44 145.17 L 682.05 145.29 L 689.06 144.82 L 694.32 144.46 L 695.20 144.23 L 707.46 142.58 L 720.61 140.94 L 756.27 135.00 L 746.89 135.00 L 606.70 135.00 L 639.12 135.00 L 657.52 136.70 L 673.82 138.17 L 695.20 139.53 L 720.61 140.11 L 695.20 139.17 L 673.82 137.47 L 666.28 136.47 L 654.89 135.00 " clip-path="url(#pef2bdce41a)" style="fill: none; stroke: #0000ff; stroke-width: 2; stroke-linecap: square"/>
   </g>
   <g id="line2d_67">
    <defs>
     <path id="m0daed7dcdc" d="M -1 0 L 1 0 M 0 1 L 0 -1 " style="stroke-width: 0.72; stroke: #0000ff; stroke-opacity: 0.5"/>
    </defs>
    <g clip-path="url(#pef2bdce41a)">
     <use href="#m0daed7dcdc" x="667.77" y="109.75" style="fill: #0000ff; fill-opacity: 0.5; stroke: #0000ff; stroke-opacity: 0.5"/>
     <use href="#m0daed7dcdc" x="754.08" y="123.42" style="fill: #0000ff; fill-opacity: 0.5; stroke: #0000ff; stroke-opacity: 0.5"/>
    </g>
   </g>
   <g id="line2d_68"/>
   <g id="line2d_69">
    <defs>
     <path id="mbcb75373f6" d="M 0 0.75 C 0.19 0.75 0.38 0.67 0.53 0.53 C 0.67 0.38 0.75 0.19 0.75 0 C 0.75 -0.19 0.67 -0.38 0.53 -0.53 C 0.38 -0.67 0.19 -0.75 0 -0.75 C -0.19 -0.75 -0.38 -0.67 -0.53 -0.53 C -0.67 -0.38 -0.75 -0.19 -0.75 0 C -0.75 0.19 -0.67 0.38 -0.53 0.53 C -0.38 0.67 -0.19 0.75 0 0.75 z
" style="stroke: #ffa500; stroke-opacity: 0.5; stroke-width: 0.5"/>
    </defs>
    <g clip-path="url(#pef2bdce41a)">
     <use href="#mbcb75373f6" x="700.80" y="192.62" style="fill: #ffa500; fill-opacity: 0.5; stroke: #ffa500; stroke-opacity: 0.5; stroke-width: 0.5"/>
     <use href="#mbcb75373f6" x="951.14" y="231.48" style="fill: #ffa500; fill-opacity: 0.5; stroke: #ffa500; stroke-opacity: 0.5; stroke-width: 0.5"/>
    </g>
   </g>
   <g id="line2d_70">
    <path d="M 633.24 140.76 L 1141.56 140.76" clip-path="url(#pef2bdce41a)" style="fill: none; stroke: #000000; stroke-width: 0.5; stroke-linecap: square"/>
   </g>
   <g id="line2d_71">
    <path d="M 721.08 253.80 L 721.08 27.00" clip-path="url(#pef2bdce41a)" style="fill: none; stroke: #000000; stroke-width: 0.5; stroke-linecap: square"/>
   </g>
   <g id="patch_12">
    <path d="M 633.24 253.80 L 633.24 27.00" style="fill: none; stroke: #000000; stroke-width: 0.8; stroke-linejoin: miter; stroke-linecap: square"/>
   </g>
   <g id="patch_13">
    <path d="M 1141.56 253.80 L 1141.56 27.00" style="fill: none; stroke: #000000; stroke-width: 0.8; stroke-linejoin: miter; stroke-linecap: square"/>
   </g>
   <g id="patch_14">
    <path d="M 633.24 253.80 L 1141.56 253.80" style="fill: none; stroke: #000000; stroke-width: 0.8; stroke-linejoin: miter; stroke-linecap: square"/>
   </g>
   <g id="patch_15">
    <path d="M 633.24 27.00 L 1141.56 27.00" style="fill: none; stroke: #000000; stroke-width: 0.8; stroke-linejoin: miter; stroke-linecap: square"/>
   </g>
   <g id="text_38">
    <text style="font-size: 13.10px; font-family: 'Liberation Sans', sans-serif; text-anchor: middle" x="886.15" y="20.88" transform="rotate(-0 887.09 20.88)" textLength="321.58" lengthAdjust="spacingAndGlyphs">Charakterystyka R-X zabezpieczenia odleglosciowego</text>
   </g>
   <g id="legend_2">
    <g id="patch_16">
     <path d="M 1052.28 124.20 L 1135.80 124.20 Q 1137.24 124.20 1137.24 122.04 L 1137.24 32.76 Q 1137.24 31.32 1135.80 31.32 L 1052.28 31.32 Q 1050.12 31.32 1050.12 32.76 L 1050.12 122.04 Q 1050.12 124.20 1052.28 124.20 z" style="fill: #ffffff; fill-opacity: 0.8; stroke-opacity: 0.8; stroke: #cccccc; stroke-linejoin: miter"/>
    </g>
    <g id="patch_17">
     <path d="M 1053.72 39.96 L 1069.56 39.96 L 1069.56 34.92 L 1053.72 34.92 z" style="fill: #008000; fill-opacity: 0.2; stroke-opacity: 0.2; stroke: #008000; stroke-linejoin: miter"/>
    </g>
    <g id="text_39">
     <text style="font-size: 8.40px; font-family: 'Liberation Sans', sans-serif; text-anchor: start" x="1075.91" y="39.84" transform="rotate(-0 1075.59 39.84)" textLength="31.18" lengthAdjust="spacingAndGlyphs">Strefa 1</text>
    </g>
    <g id="patch_18">
     <path d="M 1053.72 51.48 L 1069.56 51.48 L 1069.56 45.72 L 1053.72 45.72 z" style="fill: #ffff00; fill-opacity: 0.2; stroke-opacity: 0.2; stroke: #ffff00; stroke-linejoin: miter"/>
    </g>
    <g id="text_40">
     <text style="font-size: 8.40px; font-family: 'Liberation Sans', sans-serif; text-anchor: start" x="1075.91" y="51.04" transform="rotate(-0 1075.59 51.04)" textLength="31.14" lengthAdjust="spacingAndGlyphs">Strefa 2</text>
    </g>
    <g id="patch_19">
     <path d="M 1053.72 62.28 L 1069.56 62.28 L 1069.56 57.24 L 1053.72 57.24 z" style="fill: #ff0000; fill-opacity: 0.1; stroke-opacity: 0.1; stroke: #ff0000; stroke-linejoin: miter"/>
    </g>
    <g id="text_41">
     <text style="font-size: 8.40px; font-family: 'Liberation Sans', sans-serif; text-anchor: start" x="1075.91" y="62.24" transform="rotate(-0 1075.59 62.24)" textLength="31.22" lengthAdjust="spacingAndGlyphs">Strefa 3</text>
    </g>
    <g id="line2d_72">
     <path d="M 1053.72 70.92 L 1061.64 70.92 L 1069.56 70.92" style="fill: none; stroke-dasharray: 3.7,1.6; stroke-dashoffset: 0; stroke: #000000"/>
    </g>
    <g id="text_42">
     <text style="font-size: 8.23px; font-family: 'Liberation Sans', sans-serif; text-anchor: start" x="1075.40" y="73.44" transform="rotate(-0 1075.59 73.44)" textLength="27.25" lengthAdjust="spacingAndGlyphs">Linia Z</text>
    </g>
    <g id="line2d_73">
     <path d="M 1053.72 82.44 L 1061.64 82.44 L 1069.56 82.44" style="fill: none; stroke: #0000ff; stroke-width: 2; stroke-linecap: square"/>
    </g>
    <g id="text_43">
     <text style="font-size: 8.06px; font-family: 'Liberation Sans', sans-serif; text-anchor: start" x="1074.96" y="84.64" transform="rotate(-0 1075.59 84.64)" textLength="58.47" lengthAdjust="spacingAndGlyphs">Z_L1 (zwarcie)</text>
    </g>
    <g id="line2d_74">
     <g>
      <use href="#m0daed7dcdc" x="1061.19" y="93.69" style="fill: #0000ff; fill-opacity: 0.5; stroke: #0000ff; stroke-opacity: 0.5"/>
     </g>
    </g>
    <g id="text_44">
     <text style="font-size: 7.74px; font-family: 'Liberation Sans', sans-serif; text-anchor: start" x="1075.05" y="96.49" transform="rotate(-0 1075.59 96.49)" textLength="55.20" lengthAdjust="spacingAndGlyphs">Trajektoria L1</text>
    </g>
    <g id="line2d_75">
     <defs>
      <path id="med0d094118" d="M -1 0 L 1 0 M 0 1 L 0 -1 " style="stroke-width: 0.72; stroke: #008000; stroke-opacity: 0.5"/>
     </defs>
     <g>
      <use href="#med0d094118" x="1061.19" y="104.89" style="fill: #008000; fill-opacity: 0.5; stroke: #008000; stroke-opacity: 0.5"/>
     </g>
    </g>
    <g id="text_45">
     <text style="font-size: 8.23px; font-family: 'Liberation Sans', sans-serif; text-anchor: start" x="1075.05" y="107.69" transform="rotate(-0 1075.59 107.69)" textLength="55.16" lengthAdjust="spacingAndGlyphs">Trajektoria L2</text>
    </g>
    <g id="line2d_76">
     <g>
      <use href="#mbcb75373f6" x="1061.19" y="116.09" style="fill: #ffa500; fill-opacity: 0.5; stroke: #ffa500; stroke-opacity: 0.5; stroke-width: 0.5"/>
     </g>
    </g>
    <g id="text_46">
     <text style="font-size: 7.90px; font-family: 'Liberation Sans', sans-serif; text-anchor: start" x="1075.05" y="118.53" transform="rotate(-0 1075.59 118.89)" textLength="55.23" lengthAdjust="spacingAndGlyphs">Trajektoria L3</text>
    </g>
   </g>
  </g>
  <g id="axes_3">
   <g id="patch_20">
    <path d="M 52.94 537.64 L 561.15 537.64 L 561.15 311.28 L 52.94 311.28 z
" style="fill: #ffffff"/>
   </g>
   <g id="matplotlib.axis_5">
    <g id="xtick_15">
     <g id="line2d_77">
      <path d="M 112.68 538.20 L 112.68 311.40" clip-path="url(#p69ed6bdb66)" style="fill: none; stroke: #b0b0b0; stroke-width: 0.8; stroke-linecap: square"/>
     </g>
     <g id="line2d_78">
      <g>
       <use href="#m1504cfccaf" x="112.68" y="538.20" style="stroke: #000000; stroke-width: 0.8"/>
      </g>
     </g>
     <g id="text_47">
      <text style="font-size: 10.92px; font-family: 'Liberation Sans', sans-serif; text-anchor: middle" x="112.69" y="552.56" transform="rotate(-0 112.32 552.56)" textLength="20.58" lengthAdjust="spacingAndGlyphs">0.05</text>
     </g>
    </g>
    <g id="xtick_16">
     <g id="line2d_79">
      <path d="M 173.16 538.20 L 173.16 311.40" clip-path="url(#p69ed6bdb66)" style="fill: none; stroke: #b0b0b0; stroke-width: 0.8; stroke-linecap: square"/>
     </g>
     <g id="line2d_80">
      <g>
       <use href="#m1504cfccaf" x="173.16" y="538.20" style="stroke: #000000; stroke-width: 0.8"/>
      </g>
     </g>
     <g id="text_48">
      <text style="font-size: 10.29px; font-family: 'Liberation Sans', sans-serif; text-anchor: middle" x="172.60" y="552.56" transform="rotate(-0 172.79 552.56)" textLength="21.35" lengthAdjust="spacingAndGlyphs">0.10</text>
     </g>
    </g>
    <g id="xtick_17">
     <g id="line2d_81">
      <path d="M 233.64 538.20 L 233.64 311.40" clip-path="url(#p69ed6bdb66)" style="fill: none; stroke: #b0b0b0; stroke-width: 0.8; stroke-linecap: square"/>
     </g>
     <g id="line2d_82">
      <g>
       <use href="#m1504cfccaf" x="233.64" y="538.20" style="stroke: #000000; stroke-width: 0.8"/>
      </g>
     </g>
     <g id="text_49">
      <text style="font-size: 10.81px; font-family: 'Liberation Sans', sans-serif; text-anchor: middle" x="233.10" y="552.56" transform="rotate(-0 233.26 552.56)" textLength="20.79" lengthAdjust="spacingAndGlyphs">0.15</text>
     </g>
    </g>
    <g id="xtick_18">
     <g id="line2d_83">
      <path d="M 294.12 538.20 L 294.12 311.40" clip-path="url(#p69ed6bdb66)" style="fill: none; stroke: #b0b0b0; stroke-width: 0.8; stroke-linecap: square"/>
     </g>
     <g id="line2d_84">
      <g>
       <use href="#m1504cfccaf" x="294.12" y="538.20" style="stroke: #000000; stroke-width: 0.8"/>
      </g>
     </g>
     <g id="text_50">
      <text style="font-size: 10.18px; font-family: 'Liberation Sans', sans-serif; text-anchor: middle" x="294.26" y="552.56" transform="rotate(-0 293.74 552.56)" textLength="20.93" lengthAdjust="spacingAndGlyphs">0.20</text>
     </g>
    </g>
    <g id="xtick_19">
     <g id="line2d_85">
      <path d="M 354.60 538.20 L 354.60 311.40" clip-path="url(#p69ed6bdb66)" style="fill: none; stroke: #b0b0b0; stroke-width: 0.8; stroke-linecap: square"/>
     </g>
     <g id="line2d_86">
      <g>
       <use href="#m1504cfccaf" x="354.60" y="538.20" style="stroke: #000000; stroke-width: 0.8"/>
      </g>
     </g>
     <g id="text_51">
      <text style="font-size: 10.18px; font-family: 'Liberation Sans', sans-serif; text-anchor: middle" x="354.76" y="552.56" transform="rotate(-0 354.21 552.56)" textLength="20.79" lengthAdjust="spacingAndGlyphs">0.25</text>
     </g>
    </g>
    <g id="xtick_20">
     <g id="line2d_87">
      <path d="M 415.08 538.20 L 415.08 311.40" clip-path="url(#p69ed6bdb66)" style="fill: none; stroke: #b0b0b0; stroke-width: 0.8; stroke-linecap: square"/>
     </g>
     <g id="line2d_88">
      <g>
       <use href="#m1504cfccaf" x="415.08" y="538.20" style="stroke: #000000; stroke-width: 0.8"/>
      </g>
     </g>
     <g id="text_52">
      <text style="font-size: 10.27px; font-family: 'Liberation Sans', sans-serif; text-anchor: middle" x="415.21" y="552.56" transform="rotate(-0 414.68 552.56)" textLength="20.93" lengthAdjust="spacingAndGlyphs">0.30</text>
     </g>
    </g>
    <g id="xtick_21">
     <g id="line2d_89">
      <path d="M 475.56 538.20 L 475.56 311.40" clip-path="url(#p69ed6bdb66)" style="fill: none; stroke: #b0b0b0; stroke-width: 0.8; stroke-linecap: square"/>
     </g>
     <g id="line2d_90">
      <g>
       <use href="#m1504cfccaf" x="475.56" y="538.20" style="stroke: #000000; stroke-width: 0.8"/>
      </g>
     </g>
     <g id="text_53">
      <text style="font-size: 10.29px; font-family: 'Liberation Sans', sans-serif; text-anchor: middle" x="475.53" y="552.56" transform="rotate(-0 475.15 552.56)" textLength="21.00" lengthAdjust="spacingAndGlyphs">0.35</text>
     </g>
    </g>
    <g id="xtick_22">
     <g id="line2d_91">
      <path d="M 536.04 538.20 L 536.04 311.40" clip-path="url(#p69ed6bdb66)" style="fill: none; stroke: #b0b0b0; stroke-width: 0.8; stroke-linecap: square"/>
     </g>
     <g id="line2d_92">
      <g>
       <use href="#m1504cfccaf" x="536.04" y="538.20" style="stroke: #000000; stroke-width: 0.8"/>
      </g>
     </g>
     <g id="text_54">
      <text style="font-size: 10.71px; font-family: 'Liberation Sans', sans-serif; text-anchor: middle" x="535.61" y="552.56" transform="rotate(-0 535.63 552.56)" textLength="20.93" lengthAdjust="spacingAndGlyphs">0.40</text>
     </g>
    </g>
    <g id="text_55">
     <text style="font-size: 9.97px; font-family: 'Liberation Sans', sans-serif; text-anchor: middle" x="306.26" y="566.64" transform="rotate(-0 307.04 566.64)" textLength="38.86" lengthAdjust="spacingAndGlyphs">Czas [s]</text>
    </g>
   </g>
   <g id="matplotlib.axis_6">
    <g id="ytick_16">
     <g id="line2d_93">
      <path d="M 53.64 514.44 L 561.24 514.44" clip-path="url(#p69ed6bdb66)" style="fill: none; stroke: #b0b0b0; stroke-width: 0.8; stroke-linecap: square"/>
     </g>
     <g id="line2d_94">
      <g>
       <use href="#m5d545ce8f8" x="53.64" y="514.44" style="stroke: #000000; stroke-width: 0.8"/>
      </g>
     </g>
     <g id="text_56">
      <text style="font-size: 10.08px; font-family: 'Liberation Sans', sans-serif; text-anchor: end" x="45.89" y="518.08" transform="rotate(-0 45.94 518.08)" textLength="20.09" lengthAdjust="spacingAndGlyphs">−75</text>
     </g>
    </g>
    <g id="ytick_17">
     <g id="line2d_95">
      <path d="M 53.64 484.20 L 561.24 484.20" clip-path="url(#p69ed6bdb66)" style="fill: none; stroke: #b0b0b0; stroke-width: 0.8; stroke-linecap: square"/>
     </g>
     <g id="line2d_96">
      <g>
       <use href="#m5d545ce8f8" x="53.64" y="484.20" style="stroke: #000000; stroke-width: 0.8"/>
      </g>
     </g>
     <g id="text_57">
      <text style="font-size: 10.17px; font-family: 'Liberation Sans', sans-serif; text-anchor: end" x="45.26" y="487.85" transform="rotate(-0 45.94 487.85)" textLength="18.46" lengthAdjust="spacingAndGlyphs">−50</text>
     </g>
    </g>
    <g id="ytick_18">
     <g id="line2d_97">
      <path d="M 53.64 453.96 L 561.24 453.96" clip-path="url(#p69ed6bdb66)" style="fill: none; stroke: #b0b0b0; stroke-width: 0.8; stroke-linecap: square"/>
     </g>
     <g id="line2d_98">
      <g>
       <use href="#m5d545ce8f8" x="53.64" y="453.96" style="stroke: #000000; stroke-width: 0.8"/>
      </g>
     </g>
     <g id="text_58">
      <text style="font-size: 10.28px; font-family: 'Liberation Sans', sans-serif; text-anchor: end" x="45.13" y="457.62" transform="rotate(-0 45.94 457.62)" textLength="18.52" lengthAdjust="spacingAndGlyphs">−25</text>
     </g>
    </g>
    <g id="ytick_19">
     <g id="line2d_99">
      <path d="M 53.64 423.72 L 561.24 423.72" clip-path="url(#p69ed6bdb66)" style="fill: none; stroke: #b0b0b0; stroke-width: 0.8; stroke-linecap: square"/>
     </g>
     <g id="line2d_100">
      <g>
       <use href="#m5d545ce8f8" x="53.64" y="423.72" style="stroke: #000000; stroke-width: 0.8"/>
      </g>
     </g>
     <g id="text_59">
      <text style="font-size: 10.92px; font-family: 'Liberation Sans', sans-serif; text-anchor: end" x="46.32" y="427.39" transform="rotate(-0 45.94 427.38)" textLength="5.85" lengthAdjust="spacingAndGlyphs">0</text>
     </g>
    </g>
    <g id="ytick_20">
     <g id="line2d_101">
      <path d="M 53.64 393.48 L 561.24 393.48" clip-path="url(#p69ed6bdb66)" style="fill: none; stroke: #b0b0b0; stroke-width: 0.8; stroke-linecap: square"/>
     </g>
     <g id="line2d_102">
      <g>
       <use href="#m5d545ce8f8" x="53.64" y="393.48" style="stroke: #000000; stroke-width: 0.8"/>
      </g>
     </g>
     <g id="text_60">
      <text style="font-size: 10.28px; font-family: 'Liberation Sans', sans-serif; text-anchor: end" x="45.32" y="397.16" transform="rotate(-0 45.94 397.15)" textLength="12.10" lengthAdjust="spacingAndGlyphs">25</text>
     </g>
    </g>
    <g id="ytick_21">
     <g id="line2d_103">
      <path d="M 53.64 363.24 L 561.24 363.24" clip-path="url(#p69ed6bdb66)" style="fill: none; stroke: #b0b0b0; stroke-width: 0.8; stroke-linecap: square"/>
     </g>
     <g id="line2d_104">
      <g>
       <use href="#m5d545ce8f8" x="53.64" y="363.24" style="stroke: #000000; stroke-width: 0.8"/>
      </g>
     </g>
     <g id="text_61">
      <text style="font-size: 10.48px; font-family: 'Liberation Sans', sans-serif; text-anchor: end" x="44.90" y="366.93" transform="rotate(-0 45.94 366.92)" textLength="11.88" lengthAdjust="spacingAndGlyphs">50</text>
     </g>
    </g>
    <g id="ytick_22">
     <g id="line2d_105">
      <path d="M 53.64 333.00 L 561.24 333.00" clip-path="url(#p69ed6bdb66)" style="fill: none; stroke: #b0b0b0; stroke-width: 0.8; stroke-linecap: square"/>
     </g>
     <g id="line2d_106">
      <g>
       <use href="#m5d545ce8f8" x="53.64" y="333.00" style="stroke: #000000; stroke-width: 0.8"/>
      </g>
     </g>
     <g id="text_62">
      <text style="font-size: 10.28px; font-family: 'Liberation Sans', sans-serif; text-anchor: end" x="45.14" y="336.69" transform="rotate(-0 45.94 336.69)" textLength="12.04" lengthAdjust="spacingAndGlyphs">75</text>
     </g>
    </g>
    <g id="text_63">
     <text style="font-size: 10.81px; font-family: 'Liberation Sans', sans-serif; text-anchor: middle" x="17.50" y="423.74" transform="rotate(-90 18.81 424.46)" textLength="61.63" lengthAdjust="spacingAndGlyphs">Napięcie [V]</text>
    </g>
   </g>
   <g id="line2d_107">
    <path d="M 76.04 423.42 L 334.86 423.43 L 336.07 424.14 L 337.28 425.34 L 338.49 425.84 L 339.70 425.42 L 340.90 424.33 L 342.11 422.69 L 344.53 418.42 L 345.74 416.21 L 346.95 414.24 L 348.16 412.70 L 349.37 411.74 L 350.58 411.46 L 351.79 411.89 L 353.00 413.01 L 354.21 414.70 L 355.42 416.83 L 359.05 423.77 L 360.26 425.56 L 361.47 426.81 L 362.67 427.38 L 363.88 427.25 L 365.09 426.46 L 366.30 425.09 L 367.51 423.31 L 371.14 417.44 L 372.35 416.03 L 373.56 415.18 L 374.77 414.97 L 375.98 415.43 L 377.19 416.51 L 378.40 418.10 L 380.82 422.19 L 383.24 426.20 L 384.44 427.70 L 385.65 428.66 L 386.86 428.99 L 388.07 428.65 L 389.28 427.67 L 390.49 426.14 L 392.91 422.12 L 394.12 420.04 L 395.33 418.19 L 396.54 416.76 L 397.75 415.90 L 398.96 415.70 L 400.17 416.28 L 401.38 417.57 L 403.80 421.06 L 405.01 422.51 L 406.21 423.32 L 408.63 423.42 L 538.04 423.42 L 538.04 423.42 " clip-path="url(#p69ed6bdb66)" style="fill: none; stroke: #0000ff; stroke-width: 1.5; stroke-linecap: square"/>
   </g>
   <g id="line2d_108">
    <path d="M 76.04 448.65 L 78.45 385.78 L 79.66 358.32 L 80.87 337.23 L 82.08 324.57 L 83.29 321.56 L 84.50 328.52 L 85.71 344.76 L 86.92 368.68 L 89.34 429.70 L 90.55 460.83 L 91.76 488.28 L 92.97 509.37 L 94.18 522.04 L 95.39 525.04 L 96.60 518.09 L 97.81 501.85 L 99.01 477.93 L 101.43 416.90 L 102.64 385.78 L 103.85 358.32 L 105.06 337.23 L 106.27 324.57 L 107.48 321.56 L 108.69 328.52 L 109.90 344.76 L 111.11 368.68 L 113.53 429.70 L 114.74 460.83 L 115.95 488.28 L 117.16 509.37 L 118.37 522.04 L 119.58 525.04 L 120.79 518.09 L 121.99 501.85 L 123.20 477.93 L 125.62 416.90 L 126.83 385.78 L 128.04 358.32 L 129.25 337.23 L 130.46 324.57 L 131.67 321.56 L 132.88 328.52 L 134.09 344.76 L 135.30 368.68 L 137.72 429.70 L 138.93 460.83 L 140.14 488.28 L 141.35 509.37 L 142.56 522.04 L 143.76 525.04 L 144.97 518.09 L 146.18 501.85 L 147.39 477.93 L 149.81 416.90 L 151.02 385.78 L 152.23 358.32 L 153.44 337.23 L 154.65 324.57 L 155.86 321.56 L 157.07 328.52 L 158.28 344.76 L 159.49 368.68 L 161.91 429.70 L 163.12 460.83 L 164.33 488.28 L 165.53 509.37 L 166.74 522.04 L 167.95 525.04 L 169.16 518.09 L 170.37 501.85 L 171.58 477.93 L 174.00 416.90 L 175.21 385.78 L 176.42 358.32 L 177.63 337.23 L 178.84 324.57 L 180.05 321.56 L 181.26 328.52 L 182.47 344.76 L 183.68 368.68 L 186.10 429.70 L 187.30 460.83 L 188.51 488.28 L 189.72 509.37 L 190.93 522.04 L 192.14 525.04 L 193.35 518.09 L 194.56 501.85 L 195.77 477.93 L 198.19 416.90 L 199.40 385.78 L 200.61 358.32 L 201.82 337.23 L 203.03 324.57 L 204.24 321.56 L 205.45 328.52 L 206.66 344.76 L 207.87 368.68 L 210.28 429.70 L 211.49 460.83 L 212.70 488.28 L 213.91 509.37 L 215.12 522.04 L 216.33 525.04 L 217.54 518.09 L 218.75 501.85 L 219.96 477.93 L 222.38 416.90 L 223.59 385.78 L 224.80 358.32 L 226.01 337.23 L 227.22 324.57 L 228.43 321.56 L 229.64 328.52 L 230.84 344.76 L 232.05 368.68 L 234.47 429.70 L 235.68 460.83 L 236.89 488.28 L 238.10 509.37 L 239.31 522.04 L 240.52 525.04 L 241.73 518.09 L 242.94 501.85 L 244.15 477.93 L 246.57 416.90 L 247.78 385.78 L 248.99 358.32 L 250.20 337.23 L 251.41 324.57 L 252.61 321.56 L 253.82 328.52 L 255.03 344.76 L 256.24 368.68 L 258.66 429.70 L 259.87 460.83 L 261.08 488.28 L 262.29 509.37 L 263.50 522.04 L 264.71 525.04 L 265.92 518.09 L 267.13 501.85 L 268.34 477.93 L 270.76 416.90 L 271.97 385.78 L 273.18 358.32 L 274.38 337.23 L 275.59 324.57 L 276.80 321.56 L 278.01 328.52 L 279.22 344.76 L 280.43 368.68 L 282.85 429.70 L 284.06 460.83 L 285.27 488.28 L 286.48 509.37 L 287.69 522.04 L 288.90 525.04 L 290.11 518.09 L 291.32 501.85 L 292.53 477.93 L 294.95 416.90 L 296.15 385.78 L 297.36 358.32 L 298.57 337.23 L 299.78 324.57 L 300.99 321.56 L 302.20 328.52 L 303.41 344.76 L 304.62 368.68 L 307.04 429.70 L 308.25 460.83 L 309.46 488.28 L 310.67 509.37 L 311.88 522.04 L 313.09 525.04 L 314.30 518.09 L 315.51 501.85 L 316.72 477.93 L 319.13 416.90 L 320.34 385.78 L 321.55 358.32 L 322.76 337.23 L 323.97 324.57 L 325.18 321.57 L 326.39 328.54 L 327.60 344.80 L 328.81 368.78 L 331.23 430.12 L 332.44 461.53 L 333.65 489.31 L 334.86 510.75 L 336.07 523.92 L 337.28 527.35 L 338.49 520.49 L 339.70 503.94 L 340.90 479.72 L 343.32 418.68 L 344.53 387.84 L 345.74 360.75 L 346.95 340.00 L 348.16 327.55 L 349.37 324.59 L 350.58 331.43 L 351.79 347.42 L 353.00 370.97 L 355.42 431.06 L 356.63 461.70 L 357.84 488.73 L 359.05 509.50 L 360.26 521.97 L 361.47 524.92 L 362.31 521.14 L 362.67 518.07 L 363.88 502.09 L 365.09 478.53 L 367.51 418.45 L 368.72 387.81 L 369.93 360.78 L 371.14 340.01 L 372.35 327.54 L 373.56 324.58 L 374.53 329.30 L 374.77 331.43 L 375.98 347.42 L 377.19 370.97 L 379.61 431.06 L 380.82 461.70 L 382.03 488.73 L 383.24 509.50 L 384.44 521.97 L 385.65 524.92 L 386.86 518.07 L 388.07 502.09 L 389.28 478.53 L 391.70 418.45 L 392.91 387.81 L 394.12 360.78 L 395.33 340.01 L 396.54 327.54 L 397.75 324.58 L 398.60 328.37 L 398.96 331.43 L 400.17 347.42 L 401.38 370.97 L 403.80 431.06 L 405.01 461.65 L 406.21 488.36 L 407.42 508.65 L 408.63 520.70 L 409.84 523.47 L 411.05 516.62 L 412.26 500.64 L 413.47 477.08 L 415.89 417.00 L 417.10 386.36 L 418.31 359.33 L 419.52 338.56 L 420.73 326.09 L 421.94 323.13 L 423.15 329.98 L 424.36 345.97 L 425.57 369.52 L 427.98 429.61 L 429.19 460.25 L 430.52 489.68 L 431.61 508.05 L 432.82 520.52 L 434.03 523.47 L 434.39 522.44 L 435.24 516.62 L 436.45 500.64 L 437.66 477.08 L 440.08 417.00 L 441.41 383.44 L 442.50 359.33 L 443.71 338.56 L 444.92 326.09 L 446.13 323.13 L 447.34 329.98 L 448.55 345.97 L 449.75 369.52 L 452.17 429.61 L 453.38 460.25 L 454.59 487.28 L 455.80 508.05 L 457.01 520.52 L 458.22 523.47 L 458.83 521.25 L 459.43 516.62 L 460.64 500.64 L 461.85 477.08 L 464.27 417.00 L 465.48 386.36 L 466.69 359.33 L 467.90 338.56 L 469.11 326.09 L 470.32 323.13 L 470.68 324.17 L 471.52 329.98 L 472.73 345.97 L 473.94 369.52 L 476.36 429.61 L 477.57 460.25 L 478.78 487.28 L 479.99 508.05 L 481.20 520.52 L 482.41 523.47 L 483.01 521.25 L 483.62 516.62 L 484.83 500.64 L 486.04 477.08 L 488.46 417.00 L 489.67 386.36 L 490.88 359.33 L 492.09 338.56 L 493.29 326.09 L 494.50 323.13 L 494.99 324.71 L 495.71 329.98 L 496.92 345.97 L 498.13 369.52 L 500.55 429.61 L 501.76 460.25 L 502.97 487.28 L 504.18 508.05 L 505.39 520.52 L 506.60 523.47 L 507.81 516.62 L 509.02 500.64 L 510.23 477.08 L 512.65 417.00 L 513.86 386.36 L 515.07 359.33 L 516.27 338.56 L 517.48 326.09 L 517.97 323.73 L 518.69 323.13 L 518.94 323.73 L 519.90 329.98 L 521.11 345.97 L 522.32 369.52 L 524.74 429.61 L 525.95 460.25 L 527.16 487.28 L 528.37 508.05 L 529.58 520.52 L 530.67 523.62 L 530.79 523.47 L 532.00 516.62 L 533.21 500.64 L 534.42 477.08 L 536.84 417.00 L 538.04 386.36 L 538.04 386.36 " clip-path="url(#p69ed6bdb66)" style="fill: none; stroke: #008000; stroke-width: 1.5; stroke-linecap: square"/>
   </g>
   <g id="line2d_109">
    <path d="M 76.04 497.47 L 77.24 515.33 L 78.45 524.20 L 79.66 523.20 L 80.87 512.44 L 82.08 492.96 L 83.29 466.67 L 86.92 374.49 L 88.13 349.38 L 89.34 331.51 L 90.55 322.65 L 91.76 323.65 L 92.97 334.41 L 94.18 353.89 L 95.39 380.17 L 99.01 472.36 L 100.22 497.47 L 101.43 515.33 L 102.64 524.20 L 103.85 523.20 L 105.06 512.44 L 106.27 492.96 L 107.48 466.67 L 111.11 374.49 L 112.32 349.38 L 113.53 331.51 L 114.74 322.65 L 115.95 323.65 L 117.16 334.41 L 118.37 353.89 L 119.58 380.17 L 123.20 472.36 L 124.41 497.47 L 125.62 515.33 L 126.83 524.20 L 128.04 523.20 L 129.25 512.44 L 130.46 492.96 L 131.67 466.67 L 135.30 374.49 L 136.51 349.38 L 137.72 331.51 L 138.93 322.65 L 140.14 323.65 L 141.35 334.41 L 142.56 353.89 L 143.76 380.17 L 147.39 472.36 L 148.60 497.47 L 149.81 515.33 L 151.02 524.20 L 152.23 523.20 L 153.44 512.44 L 154.65 492.96 L 155.86 466.67 L 159.49 374.49 L 160.70 349.38 L 161.91 331.51 L 163.12 322.65 L 164.33 323.65 L 165.53 334.41 L 166.74 353.89 L 167.95 380.17 L 171.58 472.36 L 172.79 497.47 L 174.00 515.33 L 175.21 524.20 L 176.42 523.20 L 177.63 512.44 L 178.84 492.96 L 180.05 466.67 L 183.68 374.49 L 184.89 349.38 L 186.10 331.51 L 187.30 322.65 L 188.51 323.65 L 189.72 334.41 L 190.93 353.89 L 192.14 380.17 L 195.77 472.36 L 196.98 497.47 L 198.19 515.33 L 199.40 524.20 L 200.61 523.20 L 201.82 512.44 L 203.03 492.96 L 204.24 466.67 L 207.87 374.49 L 209.07 349.38 L 210.28 331.51 L 211.49 322.65 L 212.70 323.65 L 213.91 334.41 L 215.12 353.89 L 216.33 380.17 L 219.96 472.36 L 221.17 497.47 L 222.38 515.33 L 223.59 524.20 L 224.80 523.20 L 226.01 512.44 L 227.22 492.96 L 228.43 466.67 L 232.05 374.49 L 233.26 349.38 L 234.47 331.51 L 235.68 322.65 L 236.89 323.65 L 238.10 334.41 L 239.31 353.89 L 240.52 380.17 L 244.15 472.36 L 245.36 497.47 L 246.57 515.33 L 247.78 524.20 L 248.99 523.20 L 250.20 512.44 L 251.41 492.96 L 252.61 466.67 L 256.24 374.49 L 257.45 349.38 L 258.66 331.51 L 259.87 322.65 L 261.08 323.65 L 262.29 334.41 L 263.50 353.89 L 264.71 380.17 L 268.34 472.36 L 269.55 497.47 L 270.76 515.33 L 271.97 524.20 L 273.18 523.20 L 274.38 512.44 L 275.59 492.96 L 276.80 466.67 L 280.43 374.49 L 281.64 349.38 L 282.85 331.51 L 284.06 322.65 L 285.27 323.65 L 286.48 334.41 L 287.69 353.89 L 288.90 380.17 L 292.53 472.36 L 293.74 497.47 L 294.95 515.33 L 296.15 524.20 L 297.36 523.20 L 298.57 512.44 L 299.78 492.96 L 300.99 466.67 L 304.62 374.49 L 305.83 349.38 L 307.04 331.51 L 308.25 322.65 L 309.46 323.65 L 310.67 334.41 L 311.88 353.89 L 313.09 380.17 L 316.72 472.36 L 317.93 497.47 L 319.13 515.33 L 320.34 524.20 L 321.55 523.20 L 322.76 512.44 L 323.97 492.96 L 325.18 466.67 L 328.81 374.49 L 330.02 349.38 L 331.23 331.51 L 332.44 322.65 L 333.65 323.65 L 334.86 334.41 L 336.07 382.38 L 337.28 408.42 L 338.49 412.25 L 339.70 419.58 L 342.11 438.56 L 343.32 446.44 L 344.53 451.05 L 345.74 451.65 L 346.95 449.49 L 348.16 445.14 L 349.37 438.98 L 351.79 423.67 L 353.00 415.92 L 354.21 409.07 L 355.42 403.76 L 356.63 400.46 L 357.84 399.50 L 359.05 401.22 L 360.26 405.63 L 361.47 412.23 L 362.67 420.30 L 365.09 437.21 L 366.30 444.17 L 367.51 449.06 L 368.72 451.35 L 369.93 450.93 L 371.14 448.31 L 372.35 443.73 L 373.56 437.59 L 375.98 422.81 L 377.19 415.44 L 378.40 408.93 L 379.61 403.84 L 380.82 400.59 L 382.03 399.48 L 383.24 400.88 L 384.44 404.91 L 385.65 411.15 L 386.86 418.92 L 389.28 435.58 L 390.49 442.68 L 391.70 447.89 L 392.91 450.64 L 394.12 450.66 L 395.33 448.06 L 396.54 443.13 L 397.75 436.44 L 401.38 413.60 L 402.59 407.89 L 403.80 404.30 L 405.01 403.95 L 407.42 418.38 L 408.63 423.56 L 409.84 424.03 L 429.19 424.51 L 434.39 421.51 L 435.24 421.66 L 441.29 424.72 L 444.92 426.66 L 446.13 427.01 L 449.75 424.63 L 454.59 425.00 L 457.01 421.24 L 458.22 419.70 L 460.64 422.68 L 461.85 423.42 L 465.48 423.42 L 469.11 427.05 L 470.32 427.97 L 472.73 424.63 L 478.78 424.63 L 482.41 419.07 L 484.83 422.55 L 486.04 423.25 L 489.67 422.22 L 493.29 424.03 L 494.50 425.12 L 494.99 426.13 L 495.71 428.18 L 496.92 432.65 L 499.34 442.48 L 500.79 446.54 L 501.76 447.75 L 502.97 447.54 L 504.18 446.06 L 505.39 443.49 L 506.60 440.08 L 510.23 428.29 L 511.44 425.10 L 512.65 422.83 L 513.25 422.12 L 513.86 421.71 L 515.07 421.85 L 516.27 423.25 L 517.48 425.79 L 518.69 429.19 L 522.32 440.70 L 523.53 443.62 L 524.74 445.51 L 525.95 446.16 L 527.16 445.61 L 528.37 444.00 L 529.58 441.47 L 530.79 438.22 L 535.63 423.70 L 536.84 421.17 L 538.04 419.56 L 538.04 419.56 " clip-path="url(#p69ed6bdb66)" style="fill: none; stroke: #ffa500; stroke-width: 1.5; stroke-linecap: square"/>
   </g>
   <g id="patch_21">
    <path d="M 53.64 538.20 L 53.64 311.40" style="fill: none; stroke: #000000; stroke-width: 0.8; stroke-linejoin: miter; stroke-linecap: square"/>
   </g>
   <g id="patch_22">
    <path d="M 561.24 538.20 L 561.24 311.40" style="fill: none; stroke: #000000; stroke-width: 0.8; stroke-linejoin: miter; stroke-linecap: square"/>
   </g>
   <g id="patch_23">
    <path d="M 53.64 538.20 L 561.24 538.20" style="fill: none; stroke: #000000; stroke-width: 0.8; stroke-linejoin: miter; stroke-linecap: square"/>
   </g>
   <g id="patch_24">
    <path d="M 53.64 311.40 L 561.24 311.40" style="fill: none; stroke: #000000; stroke-width: 0.8; stroke-linejoin: miter; stroke-linecap: square"/>
   </g>
   <g id="text_64">
    <text style="font-size: 12.71px; font-family: 'Liberation Sans', sans-serif; text-anchor: middle" x="306.95" y="305.28" transform="rotate(-0 307.04 305.28)" textLength="136.42" lengthAdjust="spacingAndGlyphs">Napięcia faz L1, L2, L3</text>
   </g>
   <g id="legend_3">
    <g id="patch_25">
     <path d="M 497.88 365.40 L 554.76 365.40 Q 556.20 365.40 556.20 363.24 L 556.20 318.60 Q 556.20 316.44 554.76 316.44 L 497.88 316.44 Q 496.44 316.44 496.44 318.60 L 496.44 363.24 Q 496.44 365.40 497.88 365.40 z" style="fill: #ffffff; fill-opacity: 0.8; stroke-opacity: 0.8; stroke: #cccccc; stroke-linejoin: miter"/>
    </g>
    <g id="line2d_110">
     <path d="M 499.68 324.72 L 509.76 324.72 L 519.84 324.72" style="fill: none; stroke: #0000ff; stroke-width: 1.5; stroke-linecap: square"/>
    </g>
    <g id="text_65">
     <text style="font-size: 9.97px; font-family: 'Liberation Sans', sans-serif; text-anchor: start" x="527.86" y="328.20" transform="rotate(-0 527.85 328.2)" textLength="22.76" lengthAdjust="spacingAndGlyphs">U_L1</text>
    </g>
    <g id="line2d_111">
     <path d="M 499.68 339.84 L 509.76 339.84 L 519.84 339.84" style="fill: none; stroke: #008000; stroke-width: 1.5; stroke-linecap: square"/>
    </g>
    <g id="text_66">
     <text style="font-size: 10.29px; font-family: 'Liberation Sans', sans-serif; text-anchor: start" x="527.86" y="343.38" transform="rotate(-0 527.85 343.38)" textLength="22.71" lengthAdjust="spacingAndGlyphs">U_L2</text>
    </g>
    <g id="line2d_112">
     <path d="M 499.68 354.96 L 509.76 354.96 L 519.84 354.96" style="fill: none; stroke: #ffa500; stroke-width: 1.5; stroke-linecap: square"/>
    </g>
    <g id="text_67">
     <text style="font-size: 10.39px; font-family: 'Liberation Sans', sans-serif; text-anchor: start" x="527.86" y="358.56" transform="rotate(-0 527.85 358.56)" textLength="22.57" lengthAdjust="spacingAndGlyphs">U_L3</text>
    </g>
   </g>
  </g>
  <g id="axes_4">
   <g id="patch_26">
    <path d="M 632.99 537.64 L 1141.2 537.64 L 1141.2 311.28 L 632.99 311.28 z
" style="fill: #ffffff"/>
   </g>
   <g id="matplotlib.axis_7">
    <g id="xtick_23">
     <g id="line2d_113">
      <path d="M 693.00 538.20 L 693.00 311.40" clip-path="url(#p5b27311825)" style="fill: none; stroke: #b0b0b0; stroke-width: 0.8; stroke-linecap: square"/>
     </g>
     <g id="line2d_114">
      <g>
       <use href="#m1504cfccaf" x="693.00" y="538.20" style="stroke: #000000; stroke-width: 0.8"/>
      </g>
     </g>
     <g id="text_68">
      <text style="font-size: 10.92px; font-family: 'Liberation Sans', sans-serif; text-anchor: middle" x="692.38" y="552.56" transform="rotate(-0 692.37 552.56)" textLength="20.58" lengthAdjust="spacingAndGlyphs">0.05</text>
     </g>
    </g>
    <g id="xtick_24">
     <g id="line2d_115">
      <path d="M 753.48 538.20 L 753.48 311.40" clip-path="url(#p5b27311825)" style="fill: none; stroke: #b0b0b0; stroke-width: 0.8; stroke-linecap: square"/>
     </g>
     <g id="line2d_116">
      <g>
       <use href="#m1504cfccaf" x="753.48" y="538.20" style="stroke: #000000; stroke-width: 0.8"/>
      </g>
     </g>
     <g id="text_69">
      <text style="font-size: 10.27px; font-family: 'Liberation Sans', sans-serif; text-anchor: middle" x="752.83" y="552.56" transform="rotate(-0 752.84 552.56)" textLength="21.15" lengthAdjust="spacingAndGlyphs">0.10</text>
     </g>
    </g>
    <g id="xtick_25">
     <g id="line2d_117">
      <path d="M 813.96 538.20 L 813.96 311.40" clip-path="url(#p5b27311825)" style="fill: none; stroke: #b0b0b0; stroke-width: 0.8; stroke-linecap: square"/>
     </g>
     <g id="line2d_118">
      <g>
       <use href="#m1504cfccaf" x="813.96" y="538.20" style="stroke: #000000; stroke-width: 0.8"/>
      </g>
     </g>
     <g id="text_70">
      <text style="font-size: 10.92px; font-family: 'Liberation Sans', sans-serif; text-anchor: middle" x="813.33" y="552.56" transform="rotate(-0 813.31 552.56)" textLength="20.79" lengthAdjust="spacingAndGlyphs">0.15</text>
     </g>
    </g>
    <g id="xtick_26">
     <g id="line2d_119">
      <path d="M 874.44 538.20 L 874.44 311.40" clip-path="url(#p5b27311825)" style="fill: none; stroke: #b0b0b0; stroke-width: 0.8; stroke-linecap: square"/>
     </g>
     <g id="line2d_120">
      <g>
       <use href="#m1504cfccaf" x="874.44" y="538.20" style="stroke: #000000; stroke-width: 0.8"/>
      </g>
     </g>
     <g id="text_71">
      <text style="font-size: 10.38px; font-family: 'Liberation Sans', sans-serif; text-anchor: middle" x="873.95" y="552.56" transform="rotate(-0 873.79 552.56)" textLength="20.93" lengthAdjust="spacingAndGlyphs">0.20</text>
     </g>
    </g>
    <g id="xtick_27">
     <g id="line2d_121">
      <path d="M 934.92 538.20 L 934.92 311.40" clip-path="url(#p5b27311825)" style="fill: none; stroke: #b0b0b0; stroke-width: 0.8; stroke-linecap: square"/>
     </g>
     <g id="line2d_122">
      <g>
       <use href="#m1504cfccaf" x="934.92" y="538.20" style="stroke: #000000; stroke-width: 0.8"/>
      </g>
     </g>
     <g id="text_72">
      <text style="font-size: 10.92px; font-family: 'Liberation Sans', sans-serif; text-anchor: middle" x="934.27" y="552.56" transform="rotate(-0 934.26 552.56)" textLength="20.58" lengthAdjust="spacingAndGlyphs">0.25</text>
     </g>
    </g>
    <g id="xtick_28">
     <g id="line2d_123">
      <path d="M 995.40 538.20 L 995.40 311.40" clip-path="url(#p5b27311825)" style="fill: none; stroke: #b0b0b0; stroke-width: 0.8; stroke-linecap: square"/>
     </g>
     <g id="line2d_124">
      <g>
       <use href="#m1504cfccaf" x="995.40" y="538.20" style="stroke: #000000; stroke-width: 0.8"/>
      </g>
     </g>
     <g id="text_73">
      <text style="font-size: 10.71px; font-family: 'Liberation Sans', sans-serif; text-anchor: middle" x="994.90" y="552.56" transform="rotate(-0 994.73 552.56)" textLength="20.93" lengthAdjust="spacingAndGlyphs">0.30</text>
     </g>
    </g>
    <g id="xtick_29">
     <g id="line2d_125">
      <path d="M 1055.88 538.20 L 1055.88 311.40" clip-path="url(#p5b27311825)" style="fill: none; stroke: #b0b0b0; stroke-width: 0.8; stroke-linecap: square"/>
     </g>
     <g id="line2d_126">
      <g>
       <use href="#m1504cfccaf" x="1055.88" y="538.20" style="stroke: #000000; stroke-width: 0.8"/>
      </g>
     </g>
     <g id="text_74">
      <text style="font-size: 10.92px; font-family: 'Liberation Sans', sans-serif; text-anchor: middle" x="1055.22" y="552.56" transform="rotate(-0 1055.20 552.56)" textLength="20.58" lengthAdjust="spacingAndGlyphs">0.35</text>
     </g>
    </g>
    <g id="xtick_30">
     <g id="line2d_127">
      <path d="M 1116.36 538.20 L 1116.36 311.40" clip-path="url(#p5b27311825)" style="fill: none; stroke: #b0b0b0; stroke-width: 0.8; stroke-linecap: square"/>
     </g>
     <g id="line2d_128">
      <g>
       <use href="#m1504cfccaf" x="1116.36" y="538.20" style="stroke: #000000; stroke-width: 0.8"/>
      </g>
     </g>
     <g id="text_75">
      <text style="font-size: 10.29px; font-family: 'Liberation Sans', sans-serif; text-anchor: middle" x="1115.84" y="552.56" transform="rotate(-0 1115.68 552.56)" textLength="20.72" lengthAdjust="spacingAndGlyphs">0.40</text>
     </g>
    </g>
    <g id="text_76">
     <text style="font-size: 9.97px; font-family: 'Liberation Sans', sans-serif; text-anchor: middle" x="885.77" y="566.64" transform="rotate(-0 887.09 566.64)" textLength="39.28" lengthAdjust="spacingAndGlyphs">Czas [s]</text>
    </g>
   </g>
   <g id="matplotlib.axis_8">
    <g id="ytick_23">
     <g id="line2d_129">
      <path d="M 633.24 531.00 L 1141.56 531.00" clip-path="url(#p5b27311825)" style="fill: none; stroke: #b0b0b0; stroke-width: 0.8; stroke-linecap: square"/>
     </g>
     <g id="line2d_130">
      <g>
       <use href="#m5d545ce8f8" x="633.24" y="531.00" style="stroke: #000000; stroke-width: 0.8"/>
      </g>
     </g>
     <g id="text_77">
      <text style="font-size: 10.07px; font-family: 'Liberation Sans', sans-serif; text-anchor: end" x="625.49" y="534.94" transform="rotate(-0 625.99 534.94)" textLength="38.32" lengthAdjust="spacingAndGlyphs">−10000</text>
     </g>
    </g>
    <g id="ytick_24">
     <g id="line2d_131">
      <path d="M 633.24 505.80 L 1141.56 505.80" clip-path="url(#p5b27311825)" style="fill: none; stroke: #b0b0b0; stroke-width: 0.8; stroke-linecap: square"/>
     </g>
     <g id="line2d_132">
      <g>
       <use href="#m5d545ce8f8" x="633.24" y="505.80" style="stroke: #000000; stroke-width: 0.8"/>
      </g>
     </g>
     <g id="text_78">
      <text style="font-size: 10.17px; font-family: 'Liberation Sans', sans-serif; text-anchor: end" x="625.47" y="509.53" transform="rotate(-0 625.99 509.52)" textLength="31.78" lengthAdjust="spacingAndGlyphs">−7500</text>
     </g>
    </g>
    <g id="ytick_25">
     <g id="line2d_133">
      <path d="M 633.24 480.60 L 1141.56 480.60" clip-path="url(#p5b27311825)" style="fill: none; stroke: #b0b0b0; stroke-width: 0.8; stroke-linecap: square"/>
     </g>
     <g id="line2d_134">
      <g>
       <use href="#m5d545ce8f8" x="633.24" y="480.60" style="stroke: #000000; stroke-width: 0.8"/>
      </g>
     </g>
     <g id="text_79">
      <text style="font-size: 10.17px; font-family: 'Liberation Sans', sans-serif; text-anchor: end" x="625.29" y="484.11" transform="rotate(-0 625.99 484.10)" textLength="31.46" lengthAdjust="spacingAndGlyphs">−5000</text>
     </g>
    </g>
    <g id="ytick_26">
     <g id="line2d_135">
      <path d="M 633.24 455.40 L 1141.56 455.40" clip-path="url(#p5b27311825)" style="fill: none; stroke: #b0b0b0; stroke-width: 0.8; stroke-linecap: square"/>
     </g>
     <g id="line2d_136">
      <g>
       <use href="#m5d545ce8f8" x="633.24" y="455.40" style="stroke: #000000; stroke-width: 0.8"/>
      </g>
     </g>
     <g id="text_80">
      <text style="font-size: 9.98px; font-family: 'Liberation Sans', sans-serif; text-anchor: end" x="625.29" y="458.69" transform="rotate(-0 625.99 458.69)" textLength="31.77" lengthAdjust="spacingAndGlyphs">−2500</text>
     </g>
    </g>
    <g id="ytick_27">
     <g id="line2d_137">
      <path d="M 633.24 429.48 L 1141.56 429.48" clip-path="url(#p5b27311825)" style="fill: none; stroke: #b0b0b0; stroke-width: 0.8; stroke-linecap: square"/>
     </g>
     <g id="line2d_138">
      <g>
       <use href="#m5d545ce8f8" x="633.24" y="429.48" style="stroke: #000000; stroke-width: 0.8"/>
      </g>
     </g>
     <g id="text_81">
      <text style="font-size: 10.92px; font-family: 'Liberation Sans', sans-serif; text-anchor: end" x="626.73" y="433.28" transform="rotate(-0 625.99 433.27)" textLength="5.91" lengthAdjust="spacingAndGlyphs">0</text>
     </g>
    </g>
    <g id="ytick_28">
     <g id="line2d_139">
      <path d="M 633.24 404.28 L 1141.56 404.28" clip-path="url(#p5b27311825)" style="fill: none; stroke: #b0b0b0; stroke-width: 0.8; stroke-linecap: square"/>
     </g>
     <g id="line2d_140">
      <g>
       <use href="#m5d545ce8f8" x="633.24" y="404.28" style="stroke: #000000; stroke-width: 0.8"/>
      </g>
     </g>
     <g id="text_82">
      <text style="font-size: 10.08px; font-family: 'Liberation Sans', sans-serif; text-anchor: end" x="625.66" y="407.86" transform="rotate(-0 625.99 407.86)" textLength="25.00" lengthAdjust="spacingAndGlyphs">2500</text>
     </g>
    </g>
    <g id="ytick_29">
     <g id="line2d_141">
      <path d="M 633.24 379.08 L 1141.56 379.08" clip-path="url(#p5b27311825)" style="fill: none; stroke: #b0b0b0; stroke-width: 0.8; stroke-linecap: square"/>
     </g>
     <g id="line2d_142">
      <g>
       <use href="#m5d545ce8f8" x="633.24" y="379.08" style="stroke: #000000; stroke-width: 0.8"/>
      </g>
     </g>
     <g id="text_83">
      <text style="font-size: 10.49px; font-family: 'Liberation Sans', sans-serif; text-anchor: end" x="624.94" y="382.45" transform="rotate(-0 625.99 382.44)" textLength="24.86" lengthAdjust="spacingAndGlyphs">5000</text>
     </g>
    </g>
    <g id="ytick_30">
     <g id="line2d_143">
      <path d="M 633.24 353.16 L 1141.56 353.16" clip-path="url(#p5b27311825)" style="fill: none; stroke: #b0b0b0; stroke-width: 0.8; stroke-linecap: square"/>
     </g>
     <g id="line2d_144">
      <g>
       <use href="#m5d545ce8f8" x="633.24" y="353.16" style="stroke: #000000; stroke-width: 0.8"/>
      </g>
     </g>
     <g id="text_84">
      <text style="font-size: 10.28px; font-family: 'Liberation Sans', sans-serif; text-anchor: end" x="625.47" y="357.03" transform="rotate(-0 625.99 357.03)" textLength="24.45" lengthAdjust="spacingAndGlyphs">7500</text>
     </g>
    </g>
    <g id="ytick_31">
     <g id="line2d_145">
      <path d="M 633.24 327.96 L 1141.56 327.96" clip-path="url(#p5b27311825)" style="fill: none; stroke: #b0b0b0; stroke-width: 0.8; stroke-linecap: square"/>
     </g>
     <g id="line2d_146">
      <g>
       <use href="#m5d545ce8f8" x="633.24" y="327.96" style="stroke: #000000; stroke-width: 0.8"/>
      </g>
     </g>
     <g id="text_85">
      <text style="font-size: 10.50px; font-family: 'Liberation Sans', sans-serif; text-anchor: end" x="625.49" y="331.62" transform="rotate(-0 625.99 331.61)" textLength="30.98" lengthAdjust="spacingAndGlyphs">10000</text>
     </g>
    </g>
    <g id="text_86">
     <text style="font-size: 11.02px; font-family: 'Liberation Sans', sans-serif; text-anchor: middle" x="579.04" y="423.74" transform="rotate(-90 579.87 424.46)" textLength="92.40" lengthAdjust="spacingAndGlyphs">Impedancja [Ohm]</text>
    </g>
   </g>
   <g id="line2d_147">
    <path d="M 655.92 429.12 L 1118.16 429.12 L 1118.16 429.12" clip-path="url(#p5b27311825)" style="fill: none; stroke: #0000ff; stroke-width: 1.5; stroke-linecap: square"/>
   </g>
   <g id="line2d_148">
    <path d="M 656.09 429.57 L 924.58 429.47 L 940.31 429.31 L 1118.09 429.31 L 1118.09 429.31 " clip-path="url(#p5b27311825)" style="fill: none; stroke-dasharray: 5.55,2.4; stroke-dashoffset: 0; stroke: #0000ff; stroke-width: 1.5"/>
   </g>
   <g id="line2d_149">
    <path d="M 656.09 429.01 L 917.33 429.01 L 918.54 430.64 L 919.75 431.44 L 924.58 431.35 L 925.79 428.61 L 927.00 428.03 L 929.42 428.70 L 1006.83 428.70 L 1008.03 428.58 L 1009.24 430.83 L 1010.57 453.20 L 1011.66 451.65 L 1012.87 446.46 L 1014.44 435.33 L 1017.71 406.45 L 1018.92 397.74 L 1020.13 391.88 L 1021.46 389.57 L 1022.55 391.51 L 1023.76 398.01 L 1024.97 408.39 L 1027.27 434.52 L 1028.60 450.20 L 1029.80 462.65 L 1031.01 471.96 L 1032.22 477.14 L 1032.95 478.01 L 1033.43 477.58 L 1034.64 472.82 L 1035.85 463.24 L 1037.06 449.79 L 1041.90 387.03 L 1043.11 377.01 L 1044.32 371.73 L 1044.92 371.06 L 1045.53 371.79 L 1046.74 377.51 L 1047.95 388.40 L 1049.16 403.38 L 1052.78 457.13 L 1053.99 472.11 L 1055.20 483.00 L 1056.41 488.72 L 1057.02 489.45 L 1057.62 488.62 L 1058.83 482.13 L 1060.04 469.77 L 1061.25 452.73 L 1066.09 373.72 L 1067.30 360.83 L 1068.51 353.72 L 1069.23 352.53 L 1069.72 353.19 L 1070.93 360.51 L 1072.14 375.19 L 1073.34 395.67 L 1076.97 468.57 L 1078.18 488.05 L 1079.39 501.36 L 1080.60 507.08 L 1080.84 507.25 L 1081.81 504.59 L 1083.02 494.05 L 1084.23 476.44 L 1085.44 453.39 L 1089.07 374.14 L 1090.28 352.52 L 1091.49 336.89 L 1092.70 328.70 L 1093.30 327.65 L 1093.91 329.04 L 1095.12 339.94 L 1096.32 360.52 L 1098.02 401.12 L 1101.16 484.01 L 1102.37 507.88 L 1103.58 522.86 L 1104.67 527.35 L 1104.79 527.31 L 1106.00 522.79 L 1107.21 511.07 L 1108.42 493.01 L 1109.63 469.91 L 1112.05 415.59 L 1113.26 388.34 L 1114.47 363.68 L 1115.68 343.42 L 1116.89 329.03 L 1118.09 321.56 L 1118.09 321.56 " clip-path="url(#p5b27311825)" style="fill: none; stroke: #008000; stroke-width: 1.5; stroke-linecap: square"/>
   </g>
   <g id="line2d_150">
    <path d="M 656.09 432.77 L 917.33 432.77 L 918.54 432.57 L 922.16 431.35 L 930.63 430.03 L 934.26 429.52 L 1006.83 429.31 L 1008.03 429.56 L 1009.24 433.69 L 1010.57 442.68 L 1011.66 451.27 L 1012.87 459.33 L 1014.08 463.46 L 1014.44 463.71 L 1015.29 462.85 L 1016.50 458.76 L 1017.71 451.62 L 1018.92 442.06 L 1023.76 397.86 L 1024.97 390.19 L 1026.18 385.44 L 1027.27 384.03 L 1027.39 384.06 L 1028.60 387.11 L 1029.80 394.92 L 1031.01 406.66 L 1033.43 436.68 L 1034.64 451.77 L 1035.85 464.76 L 1037.06 474.27 L 1038.27 479.29 L 1038.88 479.93 L 1039.48 479.23 L 1040.69 473.76 L 1041.90 463.37 L 1043.11 449.12 L 1046.74 398.79 L 1047.95 385.20 L 1049.16 375.72 L 1050.37 371.31 L 1050.73 371.06 L 1051.57 372.52 L 1052.78 379.50 L 1053.99 391.61 L 1055.20 407.72 L 1058.83 463.84 L 1060.04 479.25 L 1061.25 490.42 L 1062.46 496.28 L 1063.06 497.02 L 1063.67 496.11 L 1064.88 488.99 L 1066.09 475.45 L 1067.30 456.86 L 1070.93 390.66 L 1072.14 372.49 L 1073.34 359.54 L 1074.55 353.11 L 1075.04 352.53 L 1075.76 353.81 L 1076.97 361.46 L 1078.18 375.38 L 1079.39 394.37 L 1081.81 440.61 L 1083.02 463.83 L 1084.23 484.40 L 1085.44 500.52 L 1086.65 510.80 L 1087.86 514.32 L 1089.07 508.79 L 1090.28 492.83 L 1091.49 468.29 L 1093.91 405.46 L 1095.12 374.42 L 1096.32 348.47 L 1097.53 330.62 L 1098.02 326.24 L 1098.74 322.91 L 1098.99 322.68 L 1099.95 326.03 L 1101.16 339.23 L 1102.37 361.13 L 1103.58 389.45 L 1107.21 482.01 L 1108.42 504.67 L 1109.63 518.82 L 1110.72 523.05 L 1110.84 523.01 L 1112.05 518.83 L 1113.26 508.09 L 1114.47 491.93 L 1116.89 450.41 L 1118.09 429.38 L 1118.09 429.38 " clip-path="url(#p5b27311825)" style="fill: none; stroke-dasharray: 5.55,2.4; stroke-dashoffset: 0; stroke: #008000; stroke-width: 1.5"/>
   </g>
   <g id="line2d_151">
    <path d="M 656.09 428.96 L 947.56 429.06 L 965.70 429.21 L 1118.09 429.21 L 1118.09 429.21 " clip-path="url(#p5b27311825)" style="fill: none; stroke: #ffa500; stroke-width: 1.5; stroke-linecap: square"/>
   </g>
   <g id="line2d_152">
    <path d="M 656.09 433.08 L 920.95 432.97 L 924.58 432.77 L 931.84 431.79 L 933.05 431.65 L 939.10 430.36 L 945.14 430.33 L 994.73 430.29 L 1000.78 429.52 L 1028.60 429.31 L 1118.09 429.31 L 1118.09 429.31 " clip-path="url(#p5b27311825)" style="fill: none; stroke-dasharray: 5.55,2.4; stroke-dashoffset: 0; stroke: #ffa500; stroke-width: 1.5"/>
   </g>
   <g id="patch_27">
    <path d="M 633.24 538.20 L 633.24 311.40" style="fill: none; stroke: #000000; stroke-width: 0.8; stroke-linejoin: miter; stroke-linecap: square"/>
   </g>
   <g id="patch_28">
    <path d="M 1141.56 538.20 L 1141.56 311.40" style="fill: none; stroke: #000000; stroke-width: 0.8; stroke-linejoin: miter; stroke-linecap: square"/>
   </g>
   <g id="patch_29">
    <path d="M 633.24 538.20 L 1141.56 538.20" style="fill: none; stroke: #000000; stroke-width: 0.8; stroke-linejoin: miter; stroke-linecap: square"/>
   </g>
   <g id="patch_30">
    <path d="M 633.24 311.40 L 1141.56 311.40" style="fill: none; stroke: #000000; stroke-width: 0.8; stroke-linejoin: miter; stroke-linecap: square"/>
   </g>
   <g id="text_87">
    <text style="font-size: 12.97px; font-family: 'Liberation Sans', sans-serif; text-anchor: middle" x="887.44" y="305.28" transform="rotate(-0 887.09 305.28)" textLength="142.40" lengthAdjust="spacingAndGlyphs">Impedancje faz (R + jX)</text>
   </g>
   <g id="legend_4">
    <g id="patch_31">
     <path d="M 640.44 410.76 L 696.60 410.76 Q 698.04 410.76 698.04 408.60 L 698.04 318.60 Q 698.04 316.44 696.60 316.44 L 640.44 316.44 Q 638.28 316.44 638.28 318.60 L 638.28 408.60 Q 638.28 410.76 640.44 410.76 z" style="fill: #ffffff; fill-opacity: 0.8; stroke-opacity: 0.8; stroke: #cccccc; stroke-linejoin: miter"/>
    </g>
    <g id="line2d_153">
     <path d="M 642.24 324.72 L 652.32 324.72 L 661.68 324.72" style="fill: none; stroke: #0000ff; stroke-width: 1.5; stroke-linecap: square"/>
    </g>
    <g id="text_88">
     <text style="font-size: 10.92px; font-family: 'Liberation Sans', sans-serif; text-anchor: start" x="669.95" y="328.20" transform="rotate(-0 669.99 328.2)" textLength="22.71" lengthAdjust="spacingAndGlyphs">R_L1</text>
    </g>
    <g id="line2d_154">
     <path d="M 642.24 339.84 L 652.32 339.84 L 661.68 339.84" style="fill: none; stroke-dasharray: 5.55,2.4; stroke-dashoffset: 0; stroke: #0000ff; stroke-width: 1.5"/>
    </g>
    <g id="text_89">
     <text style="font-size: 11.13px; font-family: 'Liberation Sans', sans-serif; text-anchor: start" x="670.29" y="343.38" transform="rotate(-0 669.99 343.38)" textLength="22.56" lengthAdjust="spacingAndGlyphs">X_L1</text>
    </g>
    <g id="line2d_155">
     <path d="M 642.24 354.96 L 652.32 354.96 L 661.68 354.96" style="fill: none; stroke: #008000; stroke-width: 1.5; stroke-linecap: square"/>
    </g>
    <g id="text_90">
     <text style="font-size: 10.92px; font-family: 'Liberation Sans', sans-serif; text-anchor: start" x="670.51" y="358.56" transform="rotate(-0 669.99 358.56)" textLength="21.98" lengthAdjust="spacingAndGlyphs">R_L2</text>
    </g>
    <g id="line2d_156">
     <path d="M 642.24 370.08 L 652.32 370.08 L 661.68 370.08" style="fill: none; stroke-dasharray: 5.55,2.4; stroke-dashoffset: 0; stroke: #008000; stroke-width: 1.5"/>
    </g>
    <g id="text_91">
     <text style="font-size: 9.88px; font-family: 'Liberation Sans', sans-serif; text-anchor: start" x="669.74" y="373.74" transform="rotate(-0 669.99 373.74)" textLength="23.20" lengthAdjust="spacingAndGlyphs">X_L2</text>
    </g>
    <g id="line2d_157">
     <path d="M 642.24 385.20 L 652.32 385.20 L 661.68 385.20" style="fill: none; stroke: #ffa500; stroke-width: 1.5; stroke-linecap: square"/>
    </g>
    <g id="text_92">
     <text style="font-size: 10.48px; font-family: 'Liberation Sans', sans-serif; text-anchor: start" x="669.76" y="388.93" transform="rotate(-0 669.99 388.92)" textLength="22.99" lengthAdjust="spacingAndGlyphs">R_L3</text>
    </g>
    <g id="line2d_158">
     <path d="M 642.24 400.32 L 652.32 400.32 L 661.68 400.32" style="fill: none; stroke-dasharray: 5.55,2.4; stroke-dashoffset: 0; stroke: #ffa500; stroke-width: 1.5"/>
    </g>
    <g id="text_93">
     <text style="font-size: 9.97px; font-family: 'Liberation Sans', sans-serif; text-anchor: start" x="670.47" y="404.11" transform="rotate(-0 669.99 404.10)" textLength="22.16" lengthAdjust="spacingAndGlyphs">X_L3</text>
    </g>
   </g>
  </g>
  <g id="axes_5">
   <g id="patch_32">
    <path d="M 52.94 822.04 L 561.15 822.04 L 561.15 595.68 L 52.94 595.68 z
" style="fill: #ffffff"/>
   </g>
   <g id="matplotlib.axis_9">
    <g id="xtick_31">
     <g id="line2d_159">
      <path d="M 112.68 822.60 L 112.68 595.80" clip-path="url(#pd6649beafd)" style="fill: none; stroke: #b0b0b0; stroke-width: 0.8; stroke-linecap: square"/>
     </g>
     <g id="line2d_160">
      <g>
       <use href="#m1504cfccaf" x="112.68" y="822.60" style="stroke: #000000; stroke-width: 0.8"/>
      </g>
     </g>
     <g id="text_94">
      <text style="font-size: 10.92px; font-family: 'Liberation Sans', sans-serif; text-anchor: middle" x="112.69" y="836.96" transform="rotate(-0 112.32 836.96)" textLength="20.58" lengthAdjust="spacingAndGlyphs">0.05</text>
     </g>
    </g>
    <g id="xtick_32">
     <g id="line2d_161">
      <path d="M 173.16 822.60 L 173.16 595.80" clip-path="url(#pd6649beafd)" style="fill: none; stroke: #b0b0b0; stroke-width: 0.8; stroke-linecap: square"/>
     </g>
     <g id="line2d_162">
      <g>
       <use href="#m1504cfccaf" x="173.16" y="822.60" style="stroke: #000000; stroke-width: 0.8"/>
      </g>
     </g>
     <g id="text_95">
      <text style="font-size: 10.29px; font-family: 'Liberation Sans', sans-serif; text-anchor: middle" x="172.60" y="836.96" transform="rotate(-0 172.79 836.96)" textLength="21.35" lengthAdjust="spacingAndGlyphs">0.10</text>
     </g>
    </g>
    <g id="xtick_33">
     <g id="line2d_163">
      <path d="M 233.64 822.60 L 233.64 595.80" clip-path="url(#pd6649beafd)" style="fill: none; stroke: #b0b0b0; stroke-width: 0.8; stroke-linecap: square"/>
     </g>
     <g id="line2d_164">
      <g>
       <use href="#m1504cfccaf" x="233.64" y="822.60" style="stroke: #000000; stroke-width: 0.8"/>
      </g>
     </g>
     <g id="text_96">
      <text style="font-size: 10.81px; font-family: 'Liberation Sans', sans-serif; text-anchor: middle" x="233.10" y="836.96" transform="rotate(-0 233.26 836.96)" textLength="20.79" lengthAdjust="spacingAndGlyphs">0.15</text>
     </g>
    </g>
    <g id="xtick_34">
     <g id="line2d_165">
      <path d="M 294.12 822.60 L 294.12 595.80" clip-path="url(#pd6649beafd)" style="fill: none; stroke: #b0b0b0; stroke-width: 0.8; stroke-linecap: square"/>
     </g>
     <g id="line2d_166">
      <g>
       <use href="#m1504cfccaf" x="294.12" y="822.60" style="stroke: #000000; stroke-width: 0.8"/>
      </g>
     </g>
     <g id="text_97">
      <text style="font-size: 10.18px; font-family: 'Liberation Sans', sans-serif; text-anchor: middle" x="294.26" y="836.96" transform="rotate(-0 293.74 836.96)" textLength="20.93" lengthAdjust="spacingAndGlyphs">0.20</text>
     </g>
    </g>
    <g id="xtick_35">
     <g id="line2d_167">
      <path d="M 354.60 822.60 L 354.60 595.80" clip-path="url(#pd6649beafd)" style="fill: none; stroke: #b0b0b0; stroke-width: 0.8; stroke-linecap: square"/>
     </g>
     <g id="line2d_168">
      <g>
       <use href="#m1504cfccaf" x="354.60" y="822.60" style="stroke: #000000; stroke-width: 0.8"/>
      </g>
     </g>
     <g id="text_98">
      <text style="font-size: 10.18px; font-family: 'Liberation Sans', sans-serif; text-anchor: middle" x="354.76" y="836.96" transform="rotate(-0 354.21 836.96)" textLength="20.79" lengthAdjust="spacingAndGlyphs">0.25</text>
     </g>
    </g>
    <g id="xtick_36">
     <g id="line2d_169">
      <path d="M 415.08 822.60 L 415.08 595.80" clip-path="url(#pd6649beafd)" style="fill: none; stroke: #b0b0b0; stroke-width: 0.8; stroke-linecap: square"/>
     </g>
     <g id="line2d_170">
      <g>
       <use href="#m1504cfccaf" x="415.08" y="822.60" style="stroke: #000000; stroke-width: 0.8"/>
      </g>
     </g>
     <g id="text_99">
      <text style="font-size: 10.27px; font-family: 'Liberation Sans', sans-serif; text-anchor: middle" x="415.21" y="836.96" transform="rotate(-0 414.68 836.96)" textLength="20.93" lengthAdjust="spacingAndGlyphs">0.30</text>
     </g>
    </g>
    <g id="xtick_37">
     <g id="line2d_171">
      <path d="M 475.56 822.60 L 475.56 595.80" clip-path="url(#pd6649beafd)" style="fill: none; stroke: #b0b0b0; stroke-width: 0.8; stroke-linecap: square"/>
     </g>
     <g id="line2d_172">
      <g>
       <use href="#m1504cfccaf" x="475.56" y="822.60" style="stroke: #000000; stroke-width: 0.8"/>
      </g>
     </g>
     <g id="text_100">
      <text style="font-size: 10.29px; font-family: 'Liberation Sans', sans-serif; text-anchor: middle" x="475.53" y="836.96" transform="rotate(-0 475.15 836.96)" textLength="21.00" lengthAdjust="spacingAndGlyphs">0.35</text>
     </g>
    </g>
    <g id="xtick_38">
     <g id="line2d_173">
      <path d="M 536.04 822.60 L 536.04 595.80" clip-path="url(#pd6649beafd)" style="fill: none; stroke: #b0b0b0; stroke-width: 0.8; stroke-linecap: square"/>
     </g>
     <g id="line2d_174">
      <g>
       <use href="#m1504cfccaf" x="536.04" y="822.60" style="stroke: #000000; stroke-width: 0.8"/>
      </g>
     </g>
     <g id="text_101">
      <text style="font-size: 10.71px; font-family: 'Liberation Sans', sans-serif; text-anchor: middle" x="535.61" y="836.96" transform="rotate(-0 535.63 836.96)" textLength="20.93" lengthAdjust="spacingAndGlyphs">0.40</text>
     </g>
    </g>
    <g id="text_102">
     <text style="font-size: 9.97px; font-family: 'Liberation Sans', sans-serif; text-anchor: middle" x="306.26" y="851.04" transform="rotate(-0 307.04 851.04)" textLength="38.86" lengthAdjust="spacingAndGlyphs">Czas [s]</text>
    </g>
   </g>
   <g id="matplotlib.axis_10">
    <g id="ytick_32">
     <g id="line2d_175">
      <path d="M 53.64 818.28 L 561.24 818.28" clip-path="url(#pd6649beafd)" style="fill: none; stroke: #b0b0b0; stroke-width: 0.8; stroke-linecap: square"/>
     </g>
     <g id="line2d_176">
      <g>
       <use href="#m5d545ce8f8" x="53.64" y="818.28" style="stroke: #000000; stroke-width: 0.8"/>
      </g>
     </g>
     <g id="text_103">
      <text style="font-size: 10.07px; font-family: 'Liberation Sans', sans-serif; text-anchor: end" x="46.02" y="821.91" transform="rotate(-0 45.94 821.90)" textLength="20.44" lengthAdjust="spacingAndGlyphs">−10</text>
     </g>
    </g>
    <g id="ytick_33">
     <g id="line2d_177">
      <path d="M 53.64 789.48 L 561.24 789.48" clip-path="url(#pd6649beafd)" style="fill: none; stroke: #b0b0b0; stroke-width: 0.8; stroke-linecap: square"/>
     </g>
     <g id="line2d_178">
      <g>
       <use href="#m5d545ce8f8" x="53.64" y="789.48" style="stroke: #000000; stroke-width: 0.8"/>
      </g>
     </g>
     <g id="text_104">
      <text style="font-size: 10.08px; font-family: 'Liberation Sans', sans-serif; text-anchor: end" x="45.86" y="793.09" transform="rotate(-0 45.94 793.08)" textLength="13.06" lengthAdjust="spacingAndGlyphs">−8</text>
     </g>
    </g>
    <g id="ytick_34">
     <g id="line2d_179">
      <path d="M 53.64 760.68 L 561.24 760.68" clip-path="url(#pd6649beafd)" style="fill: none; stroke: #b0b0b0; stroke-width: 0.8; stroke-linecap: square"/>
     </g>
     <g id="line2d_180">
      <g>
       <use href="#m5d545ce8f8" x="53.64" y="760.68" style="stroke: #000000; stroke-width: 0.8"/>
      </g>
     </g>
     <g id="text_105">
      <text style="font-size: 9.97px; font-family: 'Liberation Sans', sans-serif; text-anchor: end" x="45.86" y="764.27" transform="rotate(-0 45.94 764.26)" textLength="13.11" lengthAdjust="spacingAndGlyphs">−6</text>
     </g>
    </g>
    <g id="ytick_35">
     <g id="line2d_181">
      <path d="M 53.64 731.88 L 561.24 731.88" clip-path="url(#pd6649beafd)" style="fill: none; stroke: #b0b0b0; stroke-width: 0.8; stroke-linecap: square"/>
     </g>
     <g id="line2d_182">
      <g>
       <use href="#m5d545ce8f8" x="53.64" y="731.88" style="stroke: #000000; stroke-width: 0.8"/>
      </g>
     </g>
     <g id="text_106">
      <text style="font-size: 10.08px; font-family: 'Liberation Sans', sans-serif; text-anchor: end" x="45.57" y="735.44" transform="rotate(-0 45.94 735.44)" textLength="13.31" lengthAdjust="spacingAndGlyphs">−4</text>
     </g>
    </g>
    <g id="ytick_36">
     <g id="line2d_183">
      <path d="M 53.64 703.08 L 561.24 703.08" clip-path="url(#pd6649beafd)" style="fill: none; stroke: #b0b0b0; stroke-width: 0.8; stroke-linecap: square"/>
     </g>
     <g id="line2d_184">
      <g>
       <use href="#m5d545ce8f8" x="53.64" y="703.08" style="stroke: #000000; stroke-width: 0.8"/>
      </g>
     </g>
     <g id="text_107">
      <text style="font-size: 9.97px; font-family: 'Liberation Sans', sans-serif; text-anchor: end" x="45.60" y="706.62" transform="rotate(-0 45.94 706.62)" textLength="12.83" lengthAdjust="spacingAndGlyphs">−2</text>
     </g>
    </g>
    <g id="ytick_37">
     <g id="line2d_185">
      <path d="M 53.64 674.28 L 561.24 674.28" clip-path="url(#pd6649beafd)" style="fill: none; stroke: #b0b0b0; stroke-width: 0.8; stroke-linecap: square"/>
     </g>
     <g id="line2d_186">
      <g>
       <use href="#m5d545ce8f8" x="53.64" y="674.28" style="stroke: #000000; stroke-width: 0.8"/>
      </g>
     </g>
     <g id="text_108">
      <text style="font-size: 10.92px; font-family: 'Liberation Sans', sans-serif; text-anchor: end" x="46.32" y="677.80" transform="rotate(-0 45.94 677.80)" textLength="5.85" lengthAdjust="spacingAndGlyphs">0</text>
     </g>
    </g>
    <g id="ytick_38">
     <g id="line2d_187">
      <path d="M 53.64 645.48 L 561.24 645.48" clip-path="url(#pd6649beafd)" style="fill: none; stroke: #b0b0b0; stroke-width: 0.8; stroke-linecap: square"/>
     </g>
     <g id="line2d_188">
      <g>
       <use href="#m5d545ce8f8" x="53.64" y="645.48" style="stroke: #000000; stroke-width: 0.8"/>
      </g>
     </g>
     <g id="text_109">
      <text style="font-size: 9.98px; font-family: 'Liberation Sans', sans-serif; text-anchor: end" x="45.57" y="648.98" transform="rotate(-0 45.94 648.98)" textLength="5.74" lengthAdjust="spacingAndGlyphs">2</text>
     </g>
    </g>
    <g id="ytick_39">
     <g id="line2d_189">
      <path d="M 53.64 616.68 L 561.24 616.68" clip-path="url(#pd6649beafd)" style="fill: none; stroke: #b0b0b0; stroke-width: 0.8; stroke-linecap: square"/>
     </g>
     <g id="line2d_190">
      <g>
       <use href="#m5d545ce8f8" x="53.64" y="616.68" style="stroke: #000000; stroke-width: 0.8"/>
      </g>
     </g>
     <g id="text_110">
      <text style="font-size: 9.87px; font-family: 'Liberation Sans', sans-serif; text-anchor: end" x="46.27" y="619.44" transform="rotate(-0 45.94 620.16)" textLength="5.84" lengthAdjust="spacingAndGlyphs">4</text>
     </g>
    </g>
    <g id="text_111">
     <text style="font-size: 10.27px; font-family: 'Liberation Sans', sans-serif; text-anchor: middle" x="17.03" y="708.14" transform="rotate(-90 18.72 708.86)" textLength="39.58" lengthAdjust="spacingAndGlyphs">Wartosc</text>
    </g>
   </g>
   <g id="line2d_191">
    <path d="M 76.04 675.07 L 77.24 676.03 L 78.45 676.80 L 79.66 677.31 L 80.87 677.51 L 82.08 677.38 L 83.29 676.93 L 84.50 676.20 L 86.92 674.23 L 89.34 672.22 L 90.55 671.45 L 91.76 670.94 L 92.97 670.74 L 94.18 670.87 L 95.39 671.32 L 96.60 672.05 L 99.01 674.02 L 101.43 676.03 L 102.64 676.80 L 103.85 677.31 L 105.06 677.51 L 106.27 677.38 L 107.48 676.93 L 108.69 676.20 L 111.11 674.23 L 113.53 672.22 L 114.74 671.45 L 115.95 670.94 L 117.16 670.74 L 118.37 670.87 L 119.58 671.32 L 120.79 672.05 L 123.20 674.02 L 125.62 676.03 L 126.83 676.80 L 128.04 677.31 L 129.25 677.51 L 130.46 677.38 L 131.67 676.93 L 132.88 676.20 L 135.30 674.23 L 137.72 672.22 L 138.93 671.45 L 140.14 670.94 L 141.35 670.74 L 142.56 670.87 L 143.76 671.32 L 144.97 672.05 L 147.39 674.02 L 149.81 676.03 L 151.02 676.80 L 152.23 677.31 L 153.44 677.51 L 154.65 677.38 L 155.86 676.93 L 157.07 676.20 L 159.49 674.23 L 161.91 672.22 L 163.12 671.45 L 164.33 670.94 L 165.53 670.74 L 166.74 670.87 L 167.95 671.32 L 169.16 672.05 L 171.58 674.02 L 174.00 676.03 L 175.21 676.80 L 176.42 677.31 L 177.63 677.51 L 178.84 677.38 L 180.05 676.93 L 181.26 676.20 L 183.68 674.23 L 186.10 672.22 L 187.30 671.45 L 188.51 670.94 L 189.72 670.74 L 190.93 670.87 L 192.14 671.32 L 193.35 672.05 L 195.77 674.02 L 198.19 676.03 L 199.40 676.80 L 200.61 677.31 L 201.82 677.51 L 203.03 677.38 L 204.24 676.93 L 205.45 676.20 L 207.87 674.23 L 210.28 672.22 L 211.49 671.45 L 212.70 670.94 L 213.91 670.74 L 215.12 670.87 L 216.33 671.32 L 217.54 672.05 L 219.96 674.02 L 222.38 676.03 L 223.59 676.80 L 224.80 677.31 L 226.01 677.51 L 227.22 677.38 L 228.43 676.93 L 229.64 676.20 L 232.05 674.23 L 234.47 672.22 L 235.68 671.45 L 236.89 670.94 L 238.10 670.74 L 239.31 670.87 L 240.52 671.32 L 241.73 672.05 L 244.15 674.02 L 246.57 676.03 L 247.78 676.80 L 248.99 677.31 L 250.20 677.51 L 251.41 677.38 L 252.61 676.93 L 253.82 676.20 L 256.24 674.23 L 258.66 672.22 L 259.87 671.45 L 261.08 670.94 L 262.29 670.74 L 263.50 670.87 L 264.71 671.32 L 265.92 672.05 L 268.34 674.02 L 270.76 676.03 L 271.97 676.80 L 273.18 677.31 L 274.38 677.51 L 275.59 677.38 L 276.80 676.93 L 278.01 676.20 L 280.43 674.23 L 282.85 672.22 L 284.06 671.45 L 285.27 670.94 L 286.48 670.74 L 287.69 670.87 L 288.90 671.32 L 290.11 672.05 L 292.53 674.02 L 294.95 676.03 L 296.15 676.80 L 297.36 677.31 L 298.57 677.51 L 299.78 677.38 L 300.99 676.93 L 302.20 676.20 L 304.62 674.23 L 307.04 672.22 L 308.25 671.45 L 309.46 670.94 L 310.67 670.74 L 311.88 670.87 L 313.09 671.32 L 314.30 672.05 L 316.72 674.02 L 319.13 676.03 L 320.34 676.80 L 321.55 677.31 L 322.76 677.51 L 323.97 677.38 L 325.18 676.93 L 326.39 676.20 L 328.81 674.23 L 331.23 672.22 L 332.44 671.45 L 333.65 670.94 L 334.86 670.80 L 336.07 671.28 L 338.49 673.24 L 344.53 677.84 L 345.74 678.33 L 346.95 678.52 L 348.16 678.39 L 349.37 677.96 L 350.58 677.27 L 353.00 675.38 L 355.42 673.46 L 356.63 672.72 L 357.84 672.23 L 359.05 672.04 L 360.26 672.16 L 361.47 672.60 L 362.67 673.29 L 365.09 675.18 L 367.51 677.10 L 368.72 677.84 L 369.93 678.33 L 371.14 678.52 L 372.35 678.39 L 373.56 677.96 L 374.77 677.27 L 377.19 675.38 L 379.61 673.46 L 380.82 672.72 L 382.03 672.23 L 383.24 672.04 L 384.44 672.16 L 385.65 672.60 L 386.86 673.29 L 389.28 675.18 L 391.70 677.10 L 392.91 677.84 L 394.12 678.33 L 395.33 678.52 L 396.54 678.39 L 397.75 677.96 L 398.96 677.27 L 401.38 675.38 L 403.80 673.46 L 406.21 671.90 L 407.42 671.28 L 408.63 671.04 L 409.84 671.36 L 411.05 672.13 L 413.47 674.23 L 415.89 676.37 L 417.10 677.19 L 418.31 677.73 L 419.52 677.94 L 420.73 677.80 L 421.94 677.32 L 423.15 676.55 L 425.57 674.46 L 427.98 672.32 L 429.19 671.50 L 430.52 670.92 L 431.61 670.74 L 432.82 670.88 L 434.39 671.57 L 435.24 672.13 L 437.66 674.23 L 440.08 676.37 L 441.41 677.26 L 442.50 677.73 L 443.71 677.94 L 444.92 677.80 L 446.13 677.32 L 447.34 676.55 L 449.75 674.46 L 452.17 672.32 L 453.38 671.50 L 454.59 670.95 L 455.80 670.74 L 457.01 670.88 L 458.83 671.72 L 459.43 672.13 L 461.85 674.23 L 464.27 676.37 L 465.48 677.19 L 466.69 677.73 L 467.90 677.94 L 469.11 677.80 L 470.68 677.12 L 471.52 676.55 L 473.94 674.46 L 476.36 672.32 L 477.57 671.50 L 478.78 670.95 L 479.99 670.74 L 481.20 670.88 L 483.01 671.72 L 483.62 672.13 L 486.04 674.23 L 488.46 676.37 L 489.67 677.19 L 490.88 677.73 L 492.09 677.94 L 493.29 677.80 L 494.99 677.04 L 495.71 676.55 L 498.13 674.46 L 500.79 672.13 L 501.76 671.50 L 502.97 670.95 L 504.18 670.74 L 505.39 670.88 L 506.60 671.36 L 507.81 672.13 L 510.23 674.23 L 512.65 676.37 L 513.86 677.19 L 515.07 677.73 L 516.27 677.94 L 517.97 677.65 L 518.94 677.19 L 519.90 676.55 L 522.32 674.46 L 524.74 672.32 L 525.95 671.50 L 527.16 670.95 L 528.37 670.74 L 529.58 670.88 L 530.79 671.36 L 532.00 672.13 L 534.42 674.23 L 536.84 676.37 L 538.04 677.19 L 538.04 677.19 " clip-path="url(#pd6649beafd)" style="fill: none; stroke: #0000ff; stroke-opacity: 0.5; stroke-width: 1.5; stroke-linecap: square"/>
   </g>
   <g id="line2d_192">
    <path d="M 76.04 670.85 L 77.24 670.75 L 78.45 670.98 L 79.66 671.52 L 80.87 672.31 L 83.29 674.34 L 85.71 676.28 L 86.92 676.99 L 88.13 677.41 L 89.34 677.51 L 90.55 677.27 L 91.76 676.74 L 92.97 675.94 L 95.39 673.91 L 97.81 671.97 L 99.01 671.27 L 100.22 670.85 L 101.43 670.75 L 102.64 670.98 L 103.85 671.52 L 105.06 672.31 L 107.48 674.34 L 109.90 676.28 L 111.11 676.99 L 112.32 677.41 L 113.53 677.51 L 114.74 677.27 L 115.95 676.74 L 117.16 675.94 L 119.58 673.91 L 121.99 671.97 L 123.20 671.27 L 124.41 670.85 L 125.62 670.75 L 126.83 670.98 L 128.04 671.52 L 129.25 672.31 L 131.67 674.34 L 134.09 676.28 L 135.30 676.99 L 136.51 677.41 L 137.72 677.51 L 138.93 677.27 L 140.14 676.74 L 141.35 675.94 L 143.76 673.91 L 146.18 671.97 L 147.39 671.27 L 148.60 670.85 L 149.81 670.75 L 151.02 670.98 L 152.23 671.52 L 153.44 672.31 L 155.86 674.34 L 158.28 676.28 L 159.49 676.99 L 160.70 677.41 L 161.91 677.51 L 163.12 677.27 L 164.33 676.74 L 165.53 675.94 L 167.95 673.91 L 170.37 671.97 L 171.58 671.27 L 172.79 670.85 L 174.00 670.75 L 175.21 670.98 L 176.42 671.52 L 177.63 672.31 L 180.05 674.34 L 182.47 676.28 L 183.68 676.99 L 184.89 677.41 L 186.10 677.51 L 187.30 677.27 L 188.51 676.74 L 189.72 675.94 L 192.14 673.91 L 194.56 671.97 L 195.77 671.27 L 196.98 670.85 L 198.19 670.75 L 199.40 670.98 L 200.61 671.52 L 201.82 672.31 L 204.24 674.34 L 206.66 676.28 L 207.87 676.99 L 209.07 677.41 L 210.28 677.51 L 211.49 677.27 L 212.70 676.74 L 213.91 675.94 L 216.33 673.91 L 218.75 671.97 L 219.96 671.27 L 221.17 670.85 L 222.38 670.75 L 223.59 670.98 L 224.80 671.52 L 226.01 672.31 L 228.43 674.34 L 230.84 676.28 L 232.05 676.99 L 233.26 677.41 L 234.47 677.51 L 235.68 677.27 L 236.89 676.74 L 238.10 675.94 L 240.52 673.91 L 242.94 671.97 L 244.15 671.27 L 245.36 670.85 L 246.57 670.75 L 247.78 670.98 L 248.99 671.52 L 250.20 672.31 L 252.61 674.34 L 255.03 676.28 L 256.24 676.99 L 257.45 677.41 L 258.66 677.51 L 259.87 677.27 L 261.08 676.74 L 262.29 675.94 L 264.71 673.91 L 267.13 671.97 L 268.34 671.27 L 269.55 670.85 L 270.76 670.75 L 271.97 670.98 L 273.18 671.52 L 274.38 672.31 L 276.80 674.34 L 279.22 676.28 L 280.43 676.99 L 281.64 677.41 L 282.85 677.51 L 284.06 677.27 L 285.27 676.74 L 286.48 675.94 L 288.90 673.91 L 291.32 671.97 L 292.53 671.27 L 293.74 670.85 L 294.95 670.75 L 296.15 670.98 L 297.36 671.52 L 298.57 672.31 L 300.99 674.34 L 303.41 676.28 L 304.62 676.99 L 305.83 677.41 L 307.04 677.51 L 308.25 677.27 L 309.46 676.74 L 310.67 675.94 L 313.09 673.91 L 315.51 671.97 L 316.72 671.27 L 317.93 670.85 L 319.13 670.75 L 320.34 670.98 L 321.55 671.52 L 322.76 672.31 L 325.18 674.34 L 327.60 676.28 L 328.81 676.99 L 330.02 677.41 L 331.23 677.51 L 332.44 677.27 L 333.65 676.74 L 334.86 675.94 L 336.07 664.32 L 337.28 654.25 L 338.49 650.78 L 339.70 654.80 L 340.90 666.45 L 342.11 684.58 L 343.32 707.37 L 345.74 757.59 L 346.95 780.00 L 348.16 797.55 L 349.37 808.49 L 350.46 811.75 L 350.58 811.70 L 351.79 805.81 L 353.00 790.70 L 354.21 767.90 L 356.63 709.09 L 357.84 679.06 L 359.05 652.73 L 360.26 632.77 L 361.47 621.21 L 362.31 618.79 L 362.67 619.16 L 363.88 625.63 L 365.09 639.58 L 366.30 659.68 L 368.72 710.18 L 369.93 735.74 L 371.14 758.22 L 372.35 775.45 L 373.56 785.79 L 374.53 788.40 L 374.77 788.22 L 375.98 782.12 L 377.19 767.86 L 378.40 746.82 L 380.82 692.93 L 382.03 665.24 L 383.24 640.63 L 384.44 621.44 L 385.65 609.52 L 386.74 605.96 L 386.86 606.01 L 388.07 611.18 L 389.28 624.47 L 390.49 644.51 L 392.91 696.20 L 394.12 722.59 L 395.33 745.74 L 396.54 763.29 L 397.75 773.45 L 398.60 775.58 L 398.96 775.23 L 400.17 769.22 L 401.38 756.26 L 402.59 737.62 L 405.01 690.99 L 406.09 669.80 L 407.42 667.93 L 435.24 669.01 L 465.48 669.96 L 499.34 670.80 L 538.04 671.55 L 538.04 671.55 " clip-path="url(#pd6649beafd)" style="fill: none; stroke: #008000; stroke-opacity: 0.5; stroke-width: 1.5; stroke-linecap: square"/>
   </g>
   <g id="line2d_193">
    <path d="M 76.04 676.59 L 77.24 675.76 L 82.08 671.81 L 83.29 671.16 L 84.50 670.80 L 85.71 670.77 L 86.92 671.06 L 88.13 671.66 L 89.34 672.49 L 94.18 676.44 L 95.39 677.09 L 96.60 677.45 L 97.81 677.49 L 99.01 677.19 L 100.22 676.59 L 101.43 675.76 L 106.27 671.81 L 107.48 671.16 L 108.69 670.80 L 109.90 670.77 L 111.11 671.06 L 112.32 671.66 L 113.53 672.49 L 118.37 676.44 L 119.58 677.09 L 120.79 677.45 L 121.99 677.49 L 123.20 677.19 L 124.41 676.59 L 125.62 675.76 L 130.46 671.81 L 131.67 671.16 L 132.88 670.80 L 134.09 670.77 L 135.30 671.06 L 136.51 671.66 L 137.72 672.49 L 142.56 676.44 L 143.76 677.09 L 144.97 677.45 L 146.18 677.49 L 147.39 677.19 L 148.60 676.59 L 149.81 675.76 L 154.65 671.81 L 155.86 671.16 L 157.07 670.80 L 158.28 670.77 L 159.49 671.06 L 160.70 671.66 L 161.91 672.49 L 166.74 676.44 L 167.95 677.09 L 169.16 677.45 L 170.37 677.49 L 171.58 677.19 L 172.79 676.59 L 174.00 675.76 L 178.84 671.81 L 180.05 671.16 L 181.26 670.80 L 182.47 670.77 L 183.68 671.06 L 184.89 671.66 L 186.10 672.49 L 190.93 676.44 L 192.14 677.09 L 193.35 677.45 L 194.56 677.49 L 195.77 677.19 L 196.98 676.59 L 198.19 675.76 L 203.03 671.81 L 204.24 671.16 L 205.45 670.80 L 206.66 670.77 L 207.87 671.06 L 209.07 671.66 L 210.28 672.49 L 215.12 676.44 L 216.33 677.09 L 217.54 677.45 L 218.75 677.49 L 219.96 677.19 L 221.17 676.59 L 222.38 675.76 L 227.22 671.81 L 228.43 671.16 L 229.64 670.80 L 230.84 670.77 L 232.05 671.06 L 233.26 671.66 L 234.47 672.49 L 239.31 676.44 L 240.52 677.09 L 241.73 677.45 L 242.94 677.49 L 244.15 677.19 L 245.36 676.59 L 246.57 675.76 L 251.41 671.81 L 252.61 671.16 L 253.82 670.80 L 255.03 670.77 L 256.24 671.06 L 257.45 671.66 L 258.66 672.49 L 263.50 676.44 L 264.71 677.09 L 265.92 677.45 L 267.13 677.49 L 268.34 677.19 L 269.55 676.59 L 270.76 675.76 L 275.59 671.81 L 276.80 671.16 L 278.01 670.80 L 279.22 670.77 L 280.43 671.06 L 281.64 671.66 L 282.85 672.49 L 287.69 676.44 L 288.90 677.09 L 290.11 677.45 L 291.32 677.49 L 292.53 677.19 L 293.74 676.59 L 294.95 675.76 L 299.78 671.81 L 300.99 671.16 L 302.20 670.80 L 303.41 670.77 L 304.62 671.06 L 305.83 671.66 L 307.04 672.49 L 311.88 676.44 L 313.09 677.09 L 314.30 677.45 L 315.51 677.49 L 316.72 677.19 L 317.93 676.59 L 319.13 675.76 L 323.97 671.81 L 325.18 671.16 L 326.39 670.80 L 327.60 670.77 L 328.81 671.06 L 330.02 671.66 L 331.23 672.49 L 334.86 675.61 L 336.07 676.71 L 337.28 677.59 L 338.49 678.08 L 339.70 678.14 L 340.90 677.90 L 342.11 677.42 L 343.32 676.74 L 348.16 673.55 L 349.37 673.02 L 350.58 672.73 L 351.79 672.71 L 353.00 672.95 L 354.21 673.43 L 355.42 674.10 L 360.26 677.30 L 361.47 677.82 L 362.67 678.11 L 363.88 678.14 L 365.09 677.90 L 366.30 677.42 L 367.51 676.74 L 372.35 673.55 L 373.56 673.02 L 374.77 672.73 L 375.98 672.71 L 377.19 672.95 L 378.40 673.43 L 379.61 674.10 L 384.44 677.30 L 385.65 677.82 L 386.86 678.11 L 388.07 678.14 L 389.28 677.90 L 390.49 677.42 L 391.70 676.74 L 396.54 673.55 L 397.75 673.02 L 398.96 672.73 L 400.17 672.71 L 401.38 672.95 L 402.59 673.43 L 407.42 676.06 L 409.84 677.17 L 411.05 677.53 L 412.26 677.56 L 413.47 677.27 L 414.68 676.69 L 415.89 675.87 L 420.73 672.00 L 421.94 671.37 L 423.15 671.01 L 424.36 670.98 L 425.57 671.27 L 426.78 671.85 L 427.98 672.67 L 432.82 676.54 L 434.39 677.31 L 435.24 677.53 L 436.45 677.56 L 437.66 677.27 L 438.87 676.69 L 440.08 675.87 L 444.92 672.00 L 446.13 671.37 L 447.34 671.01 L 448.55 670.98 L 449.75 671.27 L 450.96 671.85 L 452.90 673.25 L 457.01 676.54 L 458.83 677.39 L 459.43 677.53 L 460.64 677.56 L 461.85 677.27 L 463.06 676.69 L 464.87 675.39 L 469.11 672.00 L 470.68 671.23 L 471.52 671.01 L 472.73 670.98 L 473.94 671.27 L 475.15 671.85 L 476.97 673.15 L 481.20 676.54 L 483.01 677.39 L 483.62 677.53 L 484.83 677.56 L 486.04 677.27 L 487.25 676.69 L 489.18 675.29 L 493.29 672.00 L 494.99 671.19 L 495.71 671.01 L 496.92 670.98 L 498.13 671.27 L 499.34 671.85 L 500.79 672.86 L 505.39 676.54 L 506.60 677.17 L 507.81 677.53 L 509.02 677.56 L 510.23 677.27 L 511.44 676.69 L 513.25 675.39 L 517.48 672.00 L 518.94 671.27 L 519.90 671.01 L 521.11 670.98 L 522.32 671.27 L 523.53 671.85 L 524.74 672.67 L 529.58 676.54 L 530.79 677.17 L 532.00 677.53 L 533.21 677.56 L 534.42 677.27 L 535.63 676.69 L 536.84 675.87 L 538.04 674.89 L 538.04 674.89 " clip-path="url(#pd6649beafd)" style="fill: none; stroke: #ffa500; stroke-opacity: 0.5; stroke-width: 1.5; stroke-linecap: square"/>
   </g>
   <g id="line2d_194">
    <path d="M 76.68 674.28 L 538.20 674.28 L 538.20 674.28" clip-path="url(#pd6649beafd)" style="fill: none; stroke: #ff0000; stroke-width: 2; stroke-linecap: square"/>
   </g>
   <g id="line2d_195">
    <path d="M 76.68 674.28 L 538.20 674.28 L 538.20 674.28" clip-path="url(#pd6649beafd)" style="fill: none; stroke-dasharray: 7.4,3.2; stroke-dashoffset: 0; stroke: #8b0000; stroke-width: 2"/>
   </g>
   <g id="line2d_196">
    <path d="M 76.68 674.28 L 538.20 674.28 L 538.20 674.28" clip-path="url(#pd6649beafd)" style="fill: none; stroke-dasharray: 2,3.3; stroke-dashoffset: 0; stroke: #ff8c00; stroke-width: 2"/>
   </g>
   <g id="patch_33">
    <path d="M 53.64 822.60 L 53.64 595.80" style="fill: none; stroke: #000000; stroke-width: 0.8; stroke-linejoin: miter; stroke-linecap: square"/>
   </g>
   <g id="patch_34">
    <path d="M 561.24 822.60 L 561.24 595.80" style="fill: none; stroke: #000000; stroke-width: 0.8; stroke-linejoin: miter; stroke-linecap: square"/>
   </g>
   <g id="patch_35">
    <path d="M 53.64 822.60 L 561.24 822.60" style="fill: none; stroke: #000000; stroke-width: 0.8; stroke-linejoin: miter; stroke-linecap: square"/>
   </g>
   <g id="patch_36">
    <path d="M 53.64 595.80 L 561.24 595.80" style="fill: none; stroke: #000000; stroke-width: 0.8; stroke-linejoin: miter; stroke-linecap: square"/>
   </g>
   <g id="text_112">
    <text style="font-size: 13.62px; font-family: 'Liberation Sans', sans-serif; text-anchor: middle" x="306.83" y="589.68" transform="rotate(-0 307.04 589.68)" textLength="181.72" lengthAdjust="spacingAndGlyphs">Wynik testu algorytmu ZDistA</text>
   </g>
   <g id="legend_5">
    <g id="patch_37">
     <path d="M 60.12 817.56 L 135.00 817.56 Q 137.16 817.56 137.16 815.40 L 137.16 725.40 Q 137.16 723.96 135.00 723.96 L 60.12 723.96 Q 57.96 723.96 57.96 725.40 L 57.96 815.40 Q 57.96 817.56 60.12 817.56 z" style="fill: #ffffff; fill-opacity: 0.8; stroke-opacity: 0.8; stroke: #cccccc; stroke-linejoin: miter"/>
    </g>
    <g id="line2d_197">
     <path d="M 61.92 731.52 L 72.00 731.52 L 82.08 731.52" style="fill: none; stroke: #0000ff; stroke-opacity: 0.5; stroke-width: 1.5; stroke-linecap: square"/>
    </g>
    <g id="text_113">
     <text style="font-size: 10.69px; font-family: 'Liberation Sans', sans-serif; text-anchor: start" x="89.97" y="735.18" transform="rotate(-0 89.94 735.17)" textLength="18.73" lengthAdjust="spacingAndGlyphs">I_L1</text>
    </g>
    <g id="line2d_198">
     <path d="M 61.92 746.64 L 72.00 746.64 L 82.08 746.64" style="fill: none; stroke: #008000; stroke-opacity: 0.5; stroke-width: 1.5; stroke-linecap: square"/>
    </g>
    <g id="text_114">
     <text style="font-size: 9.97px; font-family: 'Liberation Sans', sans-serif; text-anchor: start" x="89.41" y="750.36" transform="rotate(-0 89.94 750.35)" textLength="19.24" lengthAdjust="spacingAndGlyphs">I_L2</text>
    </g>
    <g id="line2d_199">
     <path d="M 61.92 761.76 L 72.00 761.76 L 82.08 761.76" style="fill: none; stroke: #ffa500; stroke-opacity: 0.5; stroke-width: 1.5; stroke-linecap: square"/>
    </g>
    <g id="text_115">
     <text style="font-size: 10.07px; font-family: 'Liberation Sans', sans-serif; text-anchor: start" x="89.98" y="765.54" transform="rotate(-0 89.94 765.53)" textLength="18.59" lengthAdjust="spacingAndGlyphs">I_L3</text>
    </g>
    <g id="line2d_200">
     <path d="M 62.28 777.24 L 72.36 777.24 L 82.44 777.24" style="fill: none; stroke: #ff0000; stroke-width: 2; stroke-linecap: square"/>
    </g>
    <g id="text_116">
     <text style="font-size: 10.29px; font-family: 'Liberation Sans', sans-serif; text-anchor: start" x="89.54" y="780.72" transform="rotate(-0 89.94 780.72)" textLength="44.28" lengthAdjust="spacingAndGlyphs">Trip L1-E</text>
    </g>
    <g id="line2d_201">
     <path d="M 62.28 792.36 L 72.36 792.36 L 82.44 792.36" style="fill: none; stroke-dasharray: 7.4,3.2; stroke-dashoffset: 0; stroke: #8b0000; stroke-width: 2"/>
    </g>
    <g id="text_117">
     <text style="font-size: 10.92px; font-family: 'Liberation Sans', sans-serif; text-anchor: start" x="89.91" y="795.80" transform="rotate(-0 89.94 795.8)" textLength="43.42" lengthAdjust="spacingAndGlyphs">Trip L2-E</text>
    </g>
    <g id="line2d_202">
     <path d="M 62.28 807.48 L 72.36 807.48 L 82.44 807.48" style="fill: none; stroke-dasharray: 2,3.3; stroke-dashoffset: 0; stroke: #ff8c00; stroke-width: 2"/>
    </g>
    <g id="text_118">
     <text style="font-size: 10.18px; font-family: 'Liberation Sans', sans-serif; text-anchor: start" x="89.91" y="810.88" transform="rotate(-0 89.94 810.88)" textLength="43.42" lengthAdjust="spacingAndGlyphs">Trip L3-E</text>
    </g>
   </g>
  </g>
  <g id="axes_6">
   <g id="patch_38">
    <path d="M 632.99 822.04 L 1141.2 822.04 L 1141.2 595.68 L 632.99 595.68 z
" style="fill: #ffffff"/>
   </g>
   <g id="matplotlib.axis_11">
    <g id="xtick_39">
     <g id="line2d_203">
      <path d="M 693.00 822.60 L 693.00 595.80" clip-path="url(#pd1c1817f58)" style="fill: none; stroke: #b0b0b0; stroke-width: 0.8; stroke-linecap: square"/>
     </g>
     <g id="line2d_204">
      <g>
       <use href="#m1504cfccaf" x="693.00" y="822.60" style="stroke: #000000; stroke-width: 0.8"/>
      </g>
     </g>
     <g id="text_119">
      <text style="font-size: 10.92px; font-family: 'Liberation Sans', sans-serif; text-anchor: middle" x="692.38" y="836.96" transform="rotate(-0 692.37 836.96)" textLength="20.58" lengthAdjust="spacingAndGlyphs">0.05</text>
     </g>
    </g>
    <g id="xtick_40">
     <g id="line2d_205">
      <path d="M 753.48 822.60 L 753.48 595.80" clip-path="url(#pd1c1817f58)" style="fill: none; stroke: #b0b0b0; stroke-width: 0.8; stroke-linecap: square"/>
     </g>
     <g id="line2d_206">
      <g>
       <use href="#m1504cfccaf" x="753.48" y="822.60" style="stroke: #000000; stroke-width: 0.8"/>
      </g>
     </g>
     <g id="text_120">
      <text style="font-size: 10.27px; font-family: 'Liberation Sans', sans-serif; text-anchor: middle" x="752.83" y="836.96" transform="rotate(-0 752.84 836.96)" textLength="21.15" lengthAdjust="spacingAndGlyphs">0.10</text>
     </g>
    </g>
    <g id="xtick_41">
     <g id="line2d_207">
      <path d="M 813.96 822.60 L 813.96 595.80" clip-path="url(#pd1c1817f58)" style="fill: none; stroke: #b0b0b0; stroke-width: 0.8; stroke-linecap: square"/>
     </g>
     <g id="line2d_208">
      <g>
       <use href="#m1504cfccaf" x="813.96" y="822.60" style="stroke: #000000; stroke-width: 0.8"/>
      </g>
     </g>
     <g id="text_121">
      <text style="font-size: 10.92px; font-family: 'Liberation Sans', sans-serif; text-anchor: middle" x="813.33" y="836.96" transform="rotate(-0 813.31 836.96)" textLength="20.79" lengthAdjust="spacingAndGlyphs">0.15</text>
     </g>
    </g>
    <g id="xtick_42">
     <g id="line2d_209">
      <path d="M 874.44 822.60 L 874.44 595.80" clip-path="url(#pd1c1817f58)" style="fill: none; stroke: #b0b0b0; stroke-width: 0.8; stroke-linecap: square"/>
     </g>
     <g id="line2d_210">
      <g>
       <use href="#m1504cfccaf" x="874.44" y="822.60" style="stroke: #000000; stroke-width: 0.8"/>
      </g>
     </g>
     <g id="text_122">
      <text style="font-size: 10.38px; font-family: 'Liberation Sans', sans-serif; text-anchor: middle" x="873.95" y="836.96" transform="rotate(-0 873.79 836.96)" textLength="20.93" lengthAdjust="spacingAndGlyphs">0.20</text>
     </g>
    </g>
    <g id="xtick_43">
     <g id="line2d_211">
      <path d="M 934.92 822.60 L 934.92 595.80" clip-path="url(#pd1c1817f58)" style="fill: none; stroke: #b0b0b0; stroke-width: 0.8; stroke-linecap: square"/>
     </g>
     <g id="line2d_212">
      <g>
       <use href="#m1504cfccaf" x="934.92" y="822.60" style="stroke: #000000; stroke-width: 0.8"/>
      </g>
     </g>
     <g id="text_123">
      <text style="font-size: 10.92px; font-family: 'Liberation Sans', sans-serif; text-anchor: middle" x="934.27" y="836.96" transform="rotate(-0 934.26 836.96)" textLength="20.58" lengthAdjust="spacingAndGlyphs">0.25</text>
     </g>
    </g>
    <g id="xtick_44">
     <g id="line2d_213">
      <path d="M 995.40 822.60 L 995.40 595.80" clip-path="url(#pd1c1817f58)" style="fill: none; stroke: #b0b0b0; stroke-width: 0.8; stroke-linecap: square"/>
     </g>
     <g id="line2d_214">
      <g>
       <use href="#m1504cfccaf" x="995.40" y="822.60" style="stroke: #000000; stroke-width: 0.8"/>
      </g>
     </g>
     <g id="text_124">
      <text style="font-size: 10.71px; font-family: 'Liberation Sans', sans-serif; text-anchor: middle" x="994.90" y="836.96" transform="rotate(-0 994.73 836.96)" textLength="20.93" lengthAdjust="spacingAndGlyphs">0.30</text>
     </g>
    </g>
    <g id="xtick_45">
     <g id="line2d_215">
      <path d="M 1055.88 822.60 L 1055.88 595.80" clip-path="url(#pd1c1817f58)" style="fill: none; stroke: #b0b0b0; stroke-width: 0.8; stroke-linecap: square"/>
     </g>
     <g id="line2d_216">
      <g>
       <use href="#m1504cfccaf" x="1055.88" y="822.60" style="stroke: #000000; stroke-width: 0.8"/>
      </g>
     </g>
     <g id="text_125">
      <text style="font-size: 10.92px; font-family: 'Liberation Sans', sans-serif; text-anchor: middle" x="1055.22" y="836.96" transform="rotate(-0 1055.20 836.96)" textLength="20.58" lengthAdjust="spacingAndGlyphs">0.35</text>
     </g>
    </g>
    <g id="xtick_46">
     <g id="line2d_217">
      <path d="M 1116.36 822.60 L 1116.36 595.80" clip-path="url(#pd1c1817f58)" style="fill: none; stroke: #b0b0b0; stroke-width: 0.8; stroke-linecap: square"/>
     </g>
     <g id="line2d_218">
      <g>
       <use href="#m1504cfccaf" x="1116.36" y="822.60" style="stroke: #000000; stroke-width: 0.8"/>
      </g>
     </g>
     <g id="text_126">
      <text style="font-size: 10.29px; font-family: 'Liberation Sans', sans-serif; text-anchor: middle" x="1115.84" y="836.96" transform="rotate(-0 1115.68 836.96)" textLength="20.72" lengthAdjust="spacingAndGlyphs">0.40</text>
     </g>
    </g>
    <g id="text_127">
     <text style="font-size: 9.97px; font-family: 'Liberation Sans', sans-serif; text-anchor: middle" x="885.77" y="851.04" transform="rotate(-0 887.09 851.04)" textLength="39.28" lengthAdjust="spacingAndGlyphs">Czas [s]</text>
    </g>
   </g>
   <g id="matplotlib.axis_12">
    <g id="ytick_40">
     <g id="line2d_219">
      <path d="M 633.24 811.80 L 1141.56 811.80" clip-path="url(#pd1c1817f58)" style="fill: none; stroke: #b0b0b0; stroke-width: 0.8; stroke-linecap: square"/>
     </g>
     <g id="line2d_220">
      <g>
       <use href="#m5d545ce8f8" x="633.24" y="811.80" style="stroke: #000000; stroke-width: 0.8"/>
      </g>
     </g>
     <g id="text_128">
      <text style="font-size: 10.92px; font-family: 'Liberation Sans', sans-serif; text-anchor: end" x="626.73" y="815.71" transform="rotate(-0 625.99 815.71)" textLength="5.91" lengthAdjust="spacingAndGlyphs">0</text>
     </g>
    </g>
    <g id="ytick_41">
     <g id="line2d_221">
      <path d="M 633.24 773.64 L 1141.56 773.64" clip-path="url(#pd1c1817f58)" style="fill: none; stroke: #b0b0b0; stroke-width: 0.8; stroke-linecap: square"/>
     </g>
     <g id="line2d_222">
      <g>
       <use href="#m5d545ce8f8" x="633.24" y="773.64" style="stroke: #000000; stroke-width: 0.8"/>
      </g>
     </g>
     <g id="text_129">
      <text style="font-size: 10.08px; font-family: 'Liberation Sans', sans-serif; text-anchor: end" x="625.66" y="777.11" transform="rotate(-0 625.99 777.10)" textLength="25.00" lengthAdjust="spacingAndGlyphs">2000</text>
     </g>
    </g>
    <g id="ytick_42">
     <g id="line2d_223">
      <path d="M 633.24 734.76 L 1141.56 734.76" clip-path="url(#pd1c1817f58)" style="fill: none; stroke: #b0b0b0; stroke-width: 0.8; stroke-linecap: square"/>
     </g>
     <g id="line2d_224">
      <g>
       <use href="#m5d545ce8f8" x="633.24" y="734.76" style="stroke: #000000; stroke-width: 0.8"/>
      </g>
     </g>
     <g id="text_130">
      <text style="font-size: 10.50px; font-family: 'Liberation Sans', sans-serif; text-anchor: end" x="625.47" y="738.50" transform="rotate(-0 625.99 738.50)" textLength="24.66" lengthAdjust="spacingAndGlyphs">4000</text>
     </g>
    </g>
    <g id="ytick_43">
     <g id="line2d_225">
      <path d="M 633.24 696.60 L 1141.56 696.60" clip-path="url(#pd1c1817f58)" style="fill: none; stroke: #b0b0b0; stroke-width: 0.8; stroke-linecap: square"/>
     </g>
     <g id="line2d_226">
      <g>
       <use href="#m5d545ce8f8" x="633.24" y="696.60" style="stroke: #000000; stroke-width: 0.8"/>
      </g>
     </g>
     <g id="text_131">
      <text style="font-size: 10.50px; font-family: 'Liberation Sans', sans-serif; text-anchor: end" x="625.66" y="699.90" transform="rotate(-0 625.99 699.89)" textLength="25.05" lengthAdjust="spacingAndGlyphs">6000</text>
     </g>
    </g>
    <g id="ytick_44">
     <g id="line2d_227">
      <path d="M 633.24 657.72 L 1141.56 657.72" clip-path="url(#pd1c1817f58)" style="fill: none; stroke: #b0b0b0; stroke-width: 0.8; stroke-linecap: square"/>
     </g>
     <g id="line2d_228">
      <g>
       <use href="#m5d545ce8f8" x="633.24" y="657.72" style="stroke: #000000; stroke-width: 0.8"/>
      </g>
     </g>
     <g id="text_132">
      <text style="font-size: 10.81px; font-family: 'Liberation Sans', sans-serif; text-anchor: end" x="625.66" y="661.29" transform="rotate(-0 625.99 661.29)" textLength="25.05" lengthAdjust="spacingAndGlyphs">8000</text>
     </g>
    </g>
    <g id="ytick_45">
     <g id="line2d_229">
      <path d="M 633.24 618.84 L 1141.56 618.84" clip-path="url(#pd1c1817f58)" style="fill: none; stroke: #b0b0b0; stroke-width: 0.8; stroke-linecap: square"/>
     </g>
     <g id="line2d_230">
      <g>
       <use href="#m5d545ce8f8" x="633.24" y="618.84" style="stroke: #000000; stroke-width: 0.8"/>
      </g>
     </g>
     <g id="text_133">
      <text style="font-size: 10.50px; font-family: 'Liberation Sans', sans-serif; text-anchor: end" x="625.49" y="622.69" transform="rotate(-0 625.99 622.68)" textLength="30.98" lengthAdjust="spacingAndGlyphs">10000</text>
     </g>
    </g>
    <g id="text_134">
     <text style="font-size: 11.02px; font-family: 'Liberation Sans', sans-serif; text-anchor: middle" x="587.05" y="708.86" transform="rotate(-90 587.88 708.86)" textLength="46.84" lengthAdjust="spacingAndGlyphs">|Z| [Ohm]</text>
    </g>
   </g>
   <g id="line2d_231">
    <path d="M 655.92 811.44 L 1118.16 811.44 L 1118.16 811.44" clip-path="url(#pd1c1817f58)" style="fill: none; stroke: #0000ff; stroke-width: 1.5; stroke-linecap: square"/>
   </g>
   <g id="line2d_232">
    <path d="M 656.09 805.13 L 916.12 805.13 L 917.33 805.56 L 919.75 808.43 L 923.37 807.68 L 924.58 807.99 L 928.21 810.59 L 931.84 811.55 L 1004.41 811.55 L 1006.83 808.59 L 1008.03 805.13 L 1009.24 789.09 L 1010.45 749.77 L 1011.66 747.73 L 1012.87 746.01 L 1017.71 741.98 L 1018.92 740.29 L 1021.46 735.78 L 1022.55 733.43 L 1024.97 727.46 L 1026.18 724.86 L 1029.80 719.89 L 1034.64 717.13 L 1035.85 716.14 L 1039.48 711.76 L 1040.69 709.71 L 1044.92 700.51 L 1046.74 699.10 L 1047.95 699.23 L 1051.57 700.01 L 1052.78 699.65 L 1056.41 696.68 L 1062.46 682.39 L 1067.30 669.60 L 1068.51 666.97 L 1069.72 664.90 L 1070.93 663.22 L 1083.02 661.53 L 1084.23 661.02 L 1086.65 653.81 L 1087.86 646.48 L 1090.28 628.63 L 1091.49 623.08 L 1096.32 610.25 L 1098.02 605.96 L 1099.95 608.59 L 1101.16 611.25 L 1104.79 623.80 L 1106.00 625.91 L 1109.63 629.58 L 1110.84 630.25 L 1113.26 631.33 L 1114.47 627.54 L 1115.68 623.35 L 1118.09 607.84 L 1118.09 607.84 " clip-path="url(#pd1c1817f58)" style="fill: none; stroke: #008000; stroke-width: 1.5; stroke-linecap: square"/>
   </g>
   <g id="line2d_233">
    <path d="M 656.09 804.31 L 918.54 804.41 L 922.16 804.71 L 928.21 806.48 L 930.63 806.21 L 934.26 805.64 L 935.47 805.89 L 941.52 809.22 L 986.26 809.48 L 1000.78 810.77 L 1006.83 811.46 L 1118.09 811.46 L 1118.09 811.46 " clip-path="url(#pd1c1817f58)" style="fill: none; stroke: #ffa500; stroke-width: 1.5; stroke-linecap: square"/>
   </g>
   <g id="line2d_234">
    <path d="M 632.88 811.44 L 1141.20 811.44" clip-path="url(#pd1c1817f58)" style="fill: none; stroke-dasharray: 5.55,2.4; stroke-dashoffset: 0; stroke: #008000; stroke-width: 1.5"/>
   </g>
   <g id="line2d_235">
    <path d="M 632.88 811.44 L 1141.20 811.44" clip-path="url(#pd1c1817f58)" style="fill: none; stroke-dasharray: 5.55,2.4; stroke-dashoffset: 0; stroke: #ffa500; stroke-width: 1.5"/>
   </g>
   <g id="line2d_236">
    <path d="M 632.88 811.44 L 1141.20 811.44" clip-path="url(#pd1c1817f58)" style="fill: none; stroke-dasharray: 5.55,2.4; stroke-dashoffset: 0; stroke: #ff0000; stroke-width: 1.5"/>
   </g>
   <g id="patch_39">
    <path d="M 633.24 822.60 L 633.24 595.80" style="fill: none; stroke: #000000; stroke-width: 0.8; stroke-linejoin: miter; stroke-linecap: square"/>
   </g>
   <g id="patch_40">
    <path d="M 1141.56 822.60 L 1141.56 595.80" style="fill: none; stroke: #000000; stroke-width: 0.8; stroke-linejoin: miter; stroke-linecap: square"/>
   </g>
   <g id="patch_41">
    <path d="M 633.24 822.60 L 1141.56 822.60" style="fill: none; stroke: #000000; stroke-width: 0.8; stroke-linejoin: miter; stroke-linecap: square"/>
   </g>
   <g id="patch_42">
    <path d="M 633.24 595.80 L 1141.56 595.80" style="fill: none; stroke: #000000; stroke-width: 0.8; stroke-linejoin: miter; stroke-linecap: square"/>
   </g>
   <g id="text_135">
    <text style="font-size: 13.10px; font-family: 'Liberation Sans', sans-serif; text-anchor: middle" x="886.26" y="589.68" transform="rotate(-0 887.09 589.68)" textLength="125.68" lengthAdjust="spacingAndGlyphs">Modul impedancji |Z|</text>
   </g>
   <g id="legend_6">
    <g id="patch_43">
     <path d="M 640.44 695.88 L 716.76 695.88 Q 718.92 695.88 718.92 693.72 L 718.92 603.00 Q 718.92 600.84 716.76 600.84 L 640.44 600.84 Q 638.28 600.84 638.28 603.00 L 638.28 693.72 Q 638.28 695.88 640.44 695.88 z" style="fill: #ffffff; fill-opacity: 0.8; stroke-opacity: 0.8; stroke: #cccccc; stroke-linejoin: miter"/>
    </g>
    <g id="line2d_237">
     <path d="M 642.24 609.12 L 652.32 609.12 L 661.68 609.12" style="fill: none; stroke: #0000ff; stroke-width: 1.5; stroke-linecap: square"/>
    </g>
    <g id="text_136">
     <text style="font-size: 10.18px; font-family: 'Liberation Sans', sans-serif; text-anchor: start" x="669.75" y="612.60" transform="rotate(-0 669.99 612.6)" textLength="29.91" lengthAdjust="spacingAndGlyphs">|Z_L1|</text>
    </g>
    <g id="line2d_238">
     <path d="M 642.24 624.24 L 652.32 624.24 L 661.68 624.24" style="fill: none; stroke: #008000; stroke-width: 1.5; stroke-linecap: square"/>
    </g>
    <g id="text_137">
     <text style="font-size: 10.18px; font-family: 'Liberation Sans', sans-serif; text-anchor: start" x="669.75" y="628.40" transform="rotate(-0 669.99 628.04)" textLength="29.91" lengthAdjust="spacingAndGlyphs">|Z_L2|</text>
    </g>
    <g id="line2d_239">
     <path d="M 642.24 640.08 L 652.32 640.08 L 661.68 640.08" style="fill: none; stroke: #ffa500; stroke-width: 1.5; stroke-linecap: square"/>
    </g>
    <g id="text_138">
     <text style="font-size: 10.18px; font-family: 'Liberation Sans', sans-serif; text-anchor: start" x="669.75" y="643.48" transform="rotate(-0 669.99 643.48)" textLength="29.91" lengthAdjust="spacingAndGlyphs">|Z_L3|</text>
    </g>
    <g id="line2d_240">
     <path d="M 642.24 655.20 L 652.32 655.20 L 661.68 655.20" style="fill: none; stroke-dasharray: 5.55,2.4; stroke-dashoffset: 0; stroke: #008000; stroke-width: 1.5"/>
    </g>
    <g id="text_139">
     <text style="font-size: 10.08px; font-family: 'Liberation Sans', sans-serif; text-anchor: start" x="670.55" y="658.92" transform="rotate(-0 669.99 658.92)" textLength="44.18" lengthAdjust="spacingAndGlyphs">Z1 reach</text>
    </g>
    <g id="line2d_241">
     <path d="M 642.24 670.32 L 652.32 670.32 L 661.68 670.32" style="fill: none; stroke-dasharray: 5.55,2.4; stroke-dashoffset: 0; stroke: #ffa500; stroke-width: 1.5"/>
    </g>
    <g id="text_140">
     <text style="font-size: 10.37px; font-family: 'Liberation Sans', sans-serif; text-anchor: start" x="670.55" y="674.00" transform="rotate(-0 669.99 674)" textLength="44.18" lengthAdjust="spacingAndGlyphs">Z2 reach</text>
    </g>
    <g id="line2d_242">
     <path d="M 642.24 685.44 L 652.32 685.44 L 661.68 685.44" style="fill: none; stroke-dasharray: 5.55,2.4; stroke-dashoffset: 0; stroke: #ff0000; stroke-width: 1.5"/>
    </g>
    <g id="text_141">
     <text style="font-size: 10.37px; font-family: 'Liberation Sans', sans-serif; text-anchor: start" x="670.55" y="689.08" transform="rotate(-0 669.99 689.08)" textLength="44.18" lengthAdjust="spacingAndGlyphs">Z3 reach</text>
    </g>
   </g>
  </g>
 </g>
 <defs>
  <clipPath id="pb59c1d358b">
   <rect x="52.94" y="26.88" width="508.21" height="226.36"/>
  </clipPath>
  <clipPath id="pef2bdce41a">
   <rect x="632.99" y="26.88" width="508.21" height="226.36"/>
  </clipPath>
  <clipPath id="p69ed6bdb66">
   <rect x="52.94" y="311.28" width="508.21" height="226.36"/>
  </clipPath>
  <clipPath id="p5b27311825">
   <rect x="632.99" y="311.28" width="508.21" height="226.36"/>
  </clipPath>
  <clipPath id="pd6649beafd">
   <rect x="52.94" y="595.68" width="508.21" height="226.36"/>
  </clipPath>
  <clipPath id="pd1c1817f58">
   <rect x="632.99" y="595.68" width="508.21" height="226.36"/>
  </clipPath>
 </defs>
</svg>

</body></html>
